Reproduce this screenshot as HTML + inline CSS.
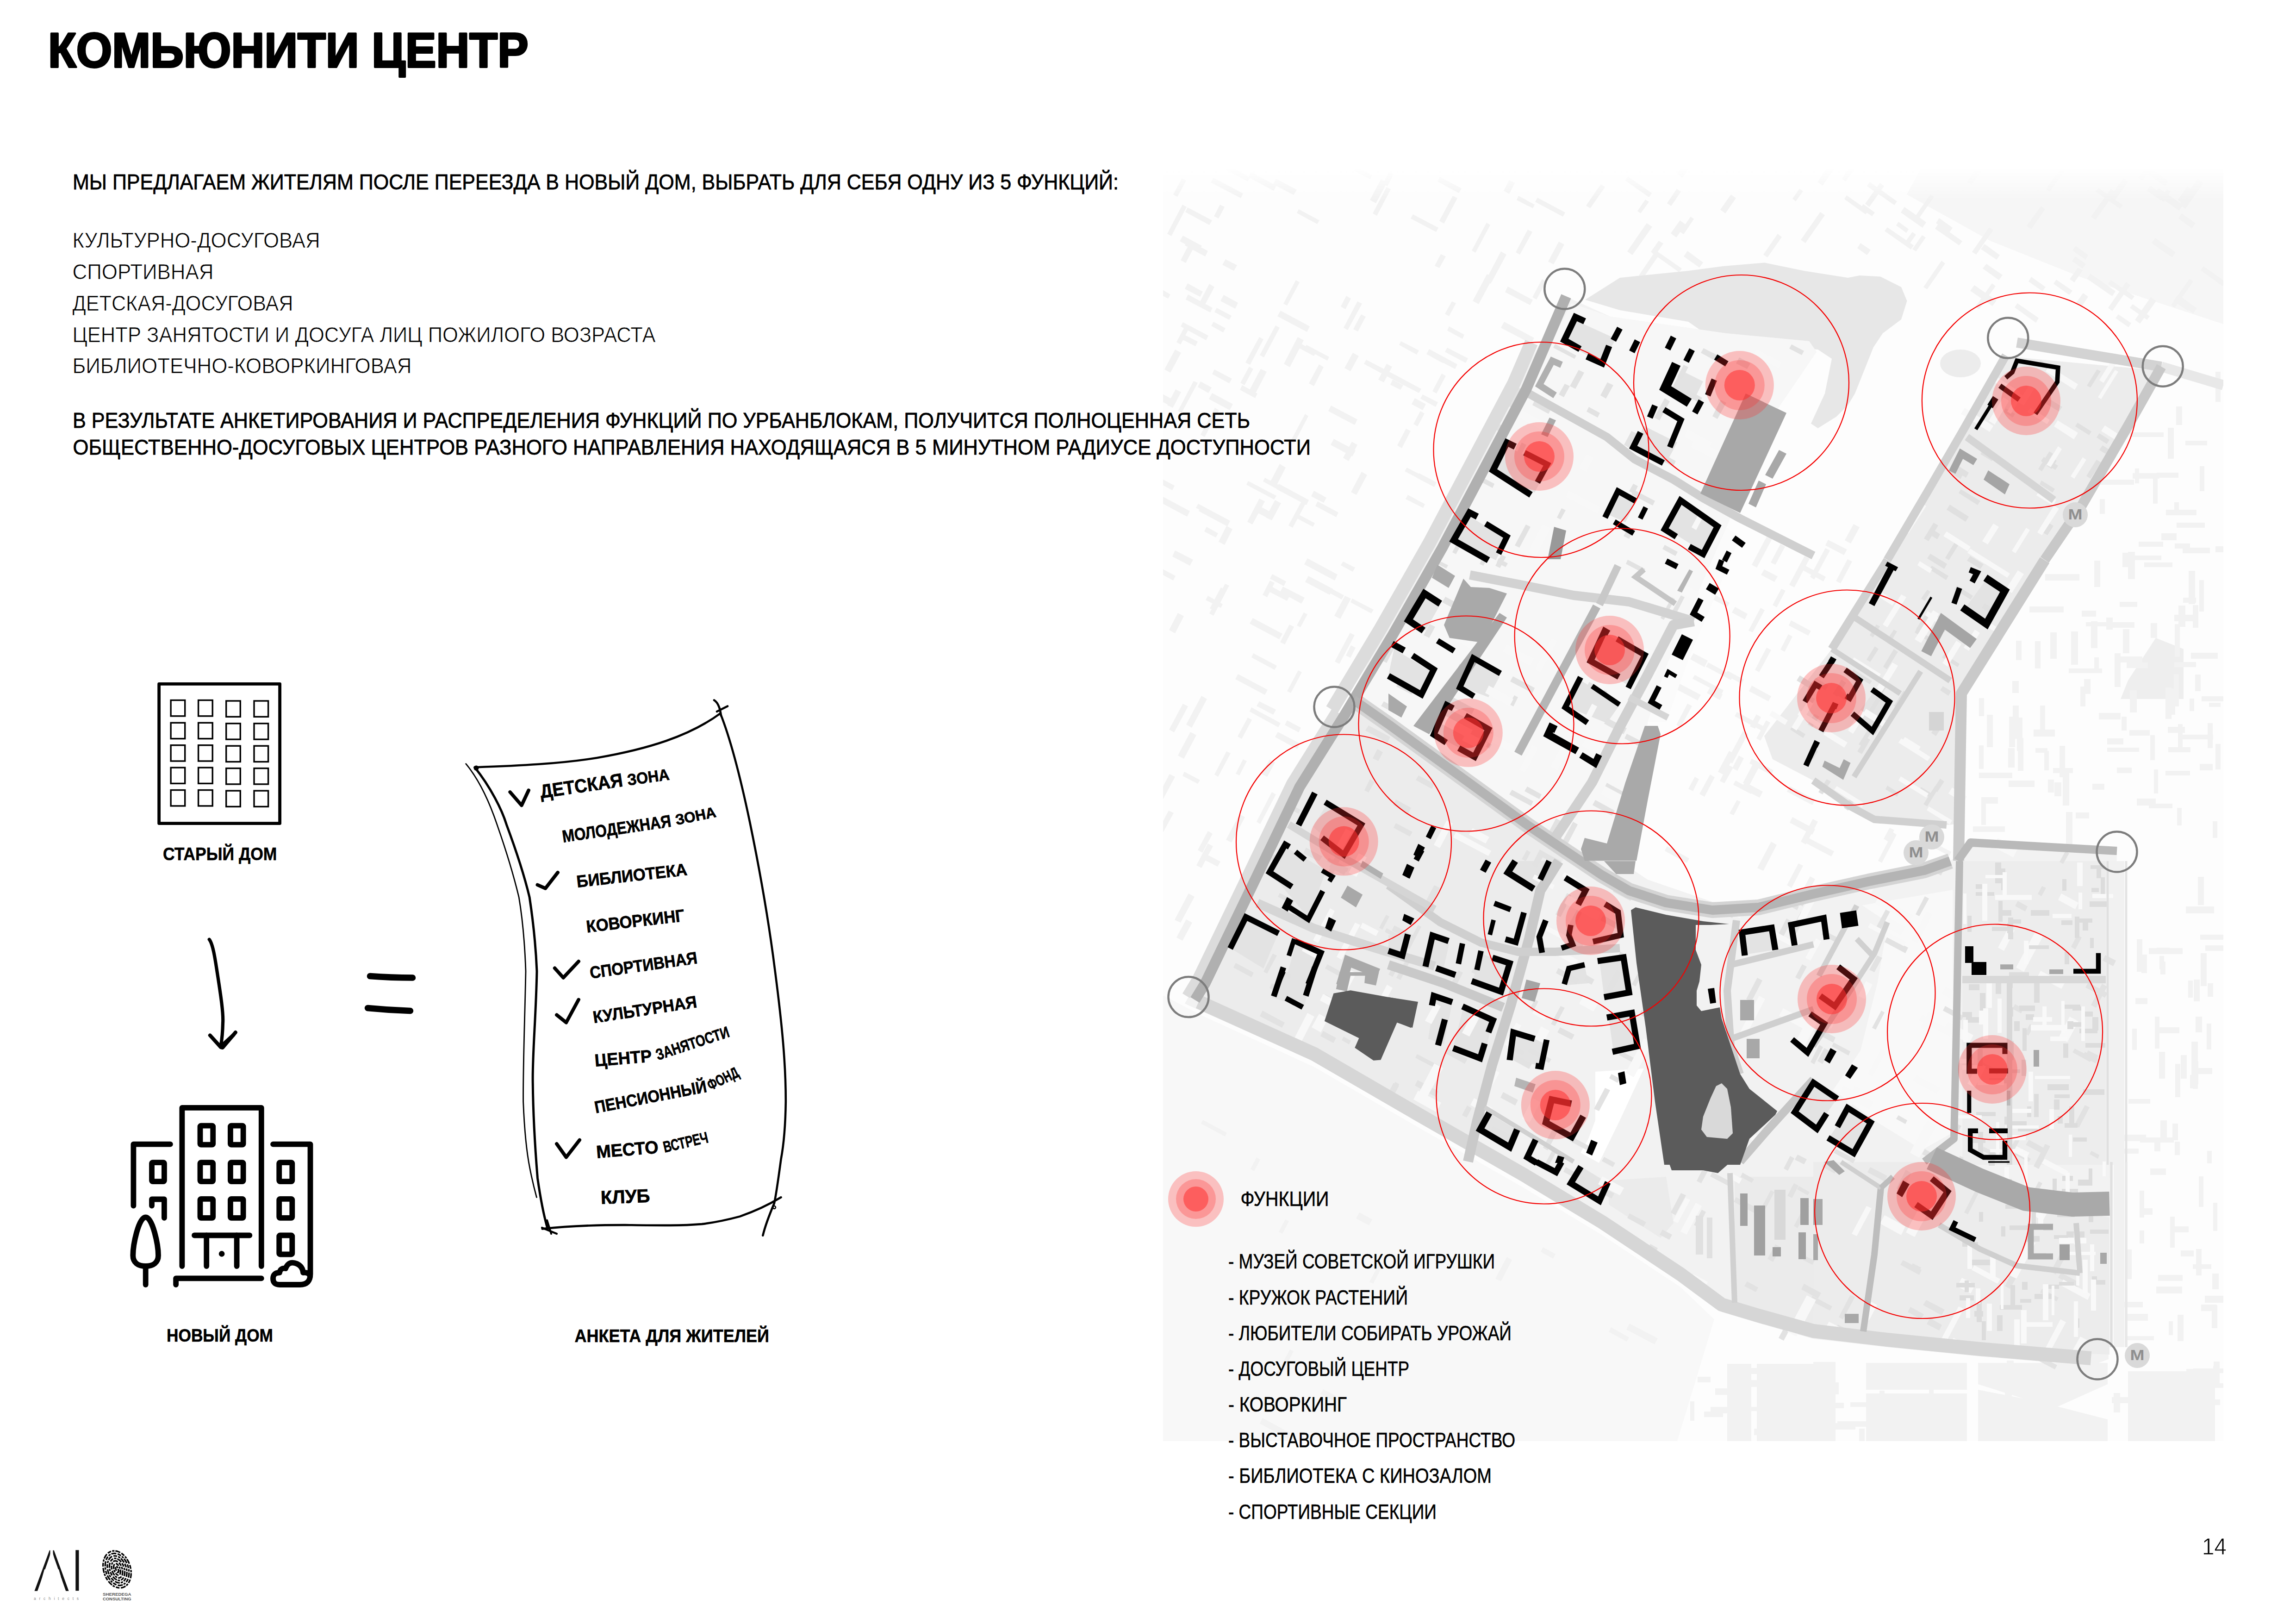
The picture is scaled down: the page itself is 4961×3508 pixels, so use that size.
<!DOCTYPE html>
<html lang="ru"><head><meta charset="utf-8"><title>Комьюнити центр</title>
<style>html,body{margin:0;padding:0;background:#fff}body{width:4961px;height:3508px}svg{display:block;font-family:'Liberation Sans', sans-serif}</style>
</head><body>
<svg width="4961" height="3508" viewBox="0 0 4961 3508">
<rect width="4961" height="3508" fill="#fff"/>
<g id="map">
<defs><linearGradient id="fadeT" x1="0" y1="0" x2="0" y2="1"><stop offset="0" stop-color="#fff" stop-opacity="1"/><stop offset="1" stop-color="#fff" stop-opacity="0"/></linearGradient><clipPath id="mapclip"><rect x="2513" y="362" width="2291" height="2751"/></clipPath></defs>
<rect x="2513" y="362" width="2291" height="2751" fill="#fdfdfd"/>
<path d="M2513 2150 L2600 2195 L2840 2305 L3066 2436 L3293 2566 L3462 2668 L3632 2781 L3704 2850 L3624 3113 L2513 3113Z" fill="#f8f8f8"/>
<g clip-path="url(#mapclip)">
<g id="m-ctx">
<path d="M4032.0 2944.0 L4250.0 2944.0 L4250.0 3002.0 L4032.0 3002.0Z" fill="#f2f2f2"/>
<path d="M4032.0 3010.0 L4250.0 3010.0 L4250.0 3116.0 L4032.0 3116.0Z" fill="#f2f2f2"/>
<path d="M4274.0 2944.0 L4554.0 2944.0 L4554.0 2990.0 L4438.0 3042.0 L4274.0 2990.0Z" fill="#f2f2f2"/>
<path d="M4274.0 3002.0 L4398.0 3026.0 L4554.0 3066.0 L4554.0 3116.0 L4274.0 3116.0Z" fill="#f2f2f2"/>
<path d="M4598.0 2962.0 L4786.0 2962.0 L4786.0 3116.0 L4598.0 3116.0Z" fill="#f2f2f2"/>
<path d="M3918.0 2942.0 L3966.0 2942.0 L3966.0 3116.0 L3918.0 3116.0Z" fill="#f2f2f2"/>
<path d="M3732.0 2946.0 L3784.0 2946.0 L3784.0 3114.0 L3732.0 3114.0Z" fill="#f2f2f2"/>
<path d="M3796.0 2946.0 L3918.4 2946.0 L3918.4 3114.0 L3796.0 3114.0Z" fill="#f2f2f2"/>
<path d="M4658.0 1378.0 L4718.0 1402.0 L4718.0 1510.0 L4582.0 1510.0 L4598.0 1470.0Z" fill="#eeeeee"/>
<path d="M4150.0 365.0 L4804.0 365.0 L4804.0 700.0 L4500.0 600.0 L4300.0 520.0 L4120.0 420.0Z" fill="#f6f6f6"/>
<path d="M2773 656L2800 605L2808 610L2781 660ZM2806 452L2851 476L2846 484L2802 460ZM2556 509L2597 531L2590 543L2549 521ZM2675 1456L2739 1490L2733 1501L2669 1467ZM3322 427L3382 459L3377 468L3317 436ZM2594 939L2625 881L2634 886L2603 944ZM3040 1010L3086 1034L3081 1042L3035 1018ZM2674 1591L2696 1550L2705 1555L2683 1596ZM2876 876L2933 906L2927 918L2870 888ZM2589 1088L2644 1118L2640 1126L2584 1097ZM2526 1576L2556 1520L2567 1526L2537 1582ZM2761 1581L2809 1606L2803 1618L2755 1592ZM2545 1632L2572 1581L2585 1588L2558 1639ZM2733 1032L2785 1059L2781 1068L2729 1040ZM2648 560L2673 573L2666 585L2641 572ZM2697 1039L2758 1071L2753 1079L2693 1047ZM2735 1118L2755 1080L2768 1087L2748 1124ZM2629 665L2661 682L2656 691L2624 674ZM3009 820L3032 832L3026 842L3004 831ZM2538 1987L2568 1930L2581 1937L2551 1993ZM2839 1060L2866 1075L2860 1086L2833 1072ZM2559 723L2588 738L2583 748L2554 733ZM2503 621L2529 636L2524 645L2497 631ZM2624 798L2662 818L2656 828L2619 808ZM2902 1213L2928 1226L2923 1235L2897 1221ZM2622 384L2686 418L2681 428L2616 394ZM2960 432L2984 387L2997 394L2973 439ZM3095 845L3115 807L3124 812L3104 850ZM2774 786L2804 728L2817 735L2787 793ZM3127 751L3172 774L3167 784L3122 760ZM2522 875L2540 841L2552 847L2534 881ZM2812 743L2844 760L2839 769L2807 752ZM2563 1565L2596 1503L2608 1510L2575 1572ZM2903 708L2933 651L2943 656L2912 713ZM3122 678L3137 651L3146 655L3131 683ZM3182 650L3213 592L3226 599L3195 657ZM2802 1351L2817 1323L2825 1327L2810 1355ZM2680 827L2699 792L2708 797L2689 832ZM2725 1095L2753 1110L2746 1123L2718 1108ZM2884 1429L2917 1367L2927 1372L2894 1434ZM2922 1293L2968 1317L2963 1325L2918 1301ZM2644 352L2701 383L2696 392L2639 361ZM2772 1267L2819 1291L2812 1304L2766 1279ZM2978 820L2996 786L3008 792L2990 826ZM2883 1330L2906 1287L2919 1293L2896 1337ZM2707 1335L2771 1369L2764 1381L2700 1347ZM2607 1138L2632 1152L2627 1161L2602 1148ZM3258 619L3312 648L3306 659L3252 631ZM2825 1206L2890 1241L2884 1254L2818 1219ZM2867 1266L2904 1286L2899 1295L2862 1275ZM3111 382L3158 407L3152 417L3106 392ZM2781 1493L2805 1448L2813 1452L2789 1497ZM2594 824L2618 837L2611 849L2588 836ZM2596 1092L2658 1125L2652 1137L2590 1104ZM2566 448L2619 476L2613 486L2561 458ZM3180 541L3212 481L3220 486L3188 546ZM2882 948L2929 973L2922 986L2875 961ZM2610 1287L2642 1305L2638 1313L2605 1296ZM2542 739L2561 703L2570 708L2551 744ZM2749 1240L2779 1256L2774 1266L2744 1250ZM2703 372L2758 401L2752 412L2698 383ZM2588 1836L2610 1795L2620 1801L2598 1842ZM2827 1244L2880 1272L2873 1285L2820 1257ZM3042 1069L3079 1089L3075 1097L3037 1078ZM2559 1667L2593 1685L2588 1693L2555 1676ZM3074 852L3107 869L3102 879L3069 861ZM2633 1170L2650 1136L2663 1143L2646 1177ZM2952 777L3017 811L3012 821L2947 786ZM2495 1026L2538 1049L2533 1059L2490 1036ZM2931 361L2965 379L2960 387L2926 369ZM2535 420L2554 385L2563 390L2544 425ZM2624 1673L2650 1623L2659 1627L2632 1678ZM2614 1314L2638 1269L2650 1276L2627 1320ZM3098 763L3121 775L3117 784L3093 771ZM2585 1869L2610 1822L2621 1828L2596 1875ZM2496 1806L2525 1751L2536 1756L2506 1811ZM3053 463L3108 492L3103 501L3048 472ZM2726 1672L2743 1641L2755 1647L2738 1678ZM2919 1063L2942 1019L2954 1026L2931 1069ZM2566 612L2599 630L2593 641L2560 624ZM2988 397L3001 372L3011 377L2998 402ZM2744 1265L2786 1288L2781 1298L2738 1276ZM3250 695L3315 730L3308 742L3243 708ZM2722 767L2756 703L2765 708L2731 772ZM2613 1325L2647 1261L2656 1265L2622 1330ZM3088 754L3149 787L3144 797L3082 765ZM2498 1222L2540 1244L2535 1254L2493 1231ZM2788 954L2820 894L2827 899L2796 958ZM3210 606L3243 543L3255 550L3221 613ZM2744 1042L2765 1002L2778 1010L2758 1049ZM2807 1112L2841 1130L2837 1138L2803 1120ZM2728 1285L2744 1254L2754 1259L2738 1290ZM3110 477L3139 423L3149 428L3120 483ZM3057 860L3081 873L3074 886L3050 873ZM2902 989L2921 954L2933 961L2914 996ZM2721 1515L2757 1533L2751 1544L2715 1525ZM2644 637L2675 654L2669 667L2637 650ZM2622 695L2648 709L2643 718L2617 704ZM2699 844L2724 797L2737 803L2712 851ZM2847 1083L2892 1107L2887 1117L2842 1093ZM2545 888L2579 823L2588 827L2553 892ZM2684 832L2717 850L2712 860L2679 842ZM3249 412L3261 389L3273 395L3261 419ZM2908 1416L2919 1394L2929 1399L2918 1421ZM2589 659L2613 613L2624 620L2600 665ZM2966 461L2996 404L3005 409L2975 466ZM3054 916L3069 888L3078 893L3063 921ZM3100 574L3113 549L3124 554L3110 579ZM2823 745L2872 771L2868 779L2819 753ZM2905 795L2923 762L2936 769L2918 802ZM2757 386L2802 410L2795 421L2751 398ZM2704 1528L2767 1562L2762 1571L2700 1537ZM2784 1135L2812 1083L2821 1088L2793 1140ZM2691 783L2721 728L2730 733L2701 788ZM2924 711L2941 679L2951 684L2934 716ZM3311 642L3332 603L3341 608L3320 647ZM2623 467L2636 442L2646 447L2633 472ZM2767 671L2830 705L2824 717L2760 683ZM3066 1022L3104 1042L3099 1052L3061 1032ZM2500 845L2538 865L2531 878L2493 858ZM2539 1189L2578 1209L2571 1222L2533 1202ZM2513 1073L2571 1104L2565 1116L2507 1085ZM2522 505L2555 442L2564 447L2531 510ZM3017 811L3071 840L3066 849L3012 821ZM2494 1735L2527 1672L2539 1678L2505 1741ZM2516 798L2539 755L2552 762L2529 805ZM2828 828L2850 787L2860 793L2839 834ZM2649 1814L2678 1759L2690 1765L2661 1820ZM3019 962L3038 926L3048 931L3029 968ZM2556 696L2611 725L2606 735L2551 705ZM2526 1361L2545 1324L2558 1331L2539 1368ZM2566 519L2610 542L2604 554L2560 530ZM2695 1127L2721 1077L2733 1083L2706 1133ZM2602 1843L2637 1861L2631 1872L2596 1854ZM3131 705L3164 723L3160 732L3127 714ZM2763 1045L2828 1080L2823 1091L2757 1056ZM3345 565L3368 522L3380 528L3357 571ZM3281 423L3316 442L3312 450L3277 432ZM2715 1775L2748 1711L2757 1716L2723 1780ZM3027 737L3066 757L3061 766L3023 745ZM2708 1411L2759 1438L2754 1447L2704 1420ZM2781 1556L2811 1572L2806 1582L2776 1566ZM2551 562L2572 522L2583 528L2562 568ZM2567 636L2620 665L2615 675L2562 647ZM2766 1387L2786 1349L2796 1354L2776 1392ZM2670 1671L2686 1640L2694 1644L2678 1675ZM2897 662L2909 639L2919 645L2907 668ZM3275 545L3301 496L3311 501L3284 550ZM2619 849L2664 873L2657 886L2612 862ZM2542 2025L2563 1986L2576 1993L2555 2032Z" fill="#f2f2f2"/>
<path d="M4534 406L4587 443L4581 451L4528 414ZM4577 679L4605 698L4599 707L4571 687ZM4114 526L4132 501L4140 507L4122 532ZM4642 360L4685 391L4678 402L4634 372ZM4556 430L4588 385L4598 393L4566 438ZM3810 550L3841 505L3850 512L3819 556ZM4020 525L4042 540L4034 551L4013 536ZM4485 531L4512 551L4506 561L4478 541ZM3567 544L3584 520L3594 526L3577 551ZM4484 554L4507 570L4500 580L4477 564ZM4709 442L4748 387L4761 395L4722 451ZM4518 468L4561 408L4570 415L4528 475ZM4664 406L4717 443L4708 455L4656 418ZM3575 539L3634 580L3628 588L3570 547ZM4102 479L4124 495L4119 503L4097 487ZM4691 659L4731 602L4739 608L4699 665ZM3541 595L3573 548L3582 555L3550 601ZM4156 620L4195 563L4203 569L4164 625ZM4261 544L4298 491L4307 497L4270 550ZM4188 484L4240 521L4233 530L4181 494ZM4421 408L4459 354L4467 360L4429 414ZM4761 575L4809 609L4802 618L4755 584ZM3427 444L3459 398L3468 404L3436 450ZM4646 401L4676 422L4669 433L4639 412ZM3534 517L3555 488L3565 495L3544 524ZM4040 393L4099 435L4093 443L4034 402ZM4608 657L4645 683L4639 691L4602 665ZM4292 570L4327 594L4319 605L4284 580ZM4705 638L4735 660L4727 671L4696 650ZM4132 538L4153 508L4161 513L4140 543ZM4706 432L4726 403L4736 410L4716 439ZM3630 501L3653 468L3660 473L3638 506ZM4486 654L4501 633L4512 641L4498 662ZM4026 441L4051 459L4045 467L4020 450ZM4379 488L4410 445L4419 452L4389 495ZM4115 447L4162 480L4154 492L4107 459ZM4620 384L4642 352L4651 358L4629 390ZM4714 642L4747 666L4739 677L4705 654ZM4266 616L4314 649L4305 661L4257 628ZM4555 665L4594 609L4603 616L4564 672ZM4190 471L4219 492L4212 502L4183 482ZM4667 430L4682 409L4690 414L4675 436ZM3873 429L3888 408L3896 413L3880 435ZM4268 663L4304 612L4312 618L4276 668ZM3538 456L3555 431L3563 436L3545 461ZM4517 591L4571 629L4564 640L4509 602ZM3517 381L3569 417L3563 426L3512 390ZM3980 386L4001 355L4010 361L3988 392ZM3891 518L3933 458L3943 465L3901 525ZM4250 393L4276 355L4286 362L4260 399ZM4132 476L4171 420L4179 425L4140 481ZM3624 376L3644 347L3655 355L3635 384ZM3646 542L3680 567L3672 578L3638 554ZM4714 461L4744 482L4736 493L4707 472ZM4359 655L4405 687L4399 697L4353 664ZM4078 491L4135 530L4129 539L4072 499ZM4443 604L4478 628L4471 637L4437 613ZM4561 605L4612 640L4606 648L4555 613ZM4472 603L4490 578L4500 584L4482 610ZM3717 453L3740 420L3751 428L3728 461ZM3602 439L3623 408L3632 414L3611 445ZM3610 504L3630 476L3642 485L3622 513ZM3516 543L3558 482L3570 490L3527 551ZM3990 422L4037 455L4031 463L3985 430ZM3927 393L3952 356L3964 364L3938 401ZM4030 440L4062 395L4071 402L4039 447ZM4657 514L4701 545L4693 556L4649 525ZM4613 691L4647 642L4659 650L4624 699ZM4288 527L4321 551L4314 561L4280 538ZM4389 598L4420 620L4413 629L4383 608Z" fill="#f2f2f2"/>
<path d="M4613 1192L4613 1251L4598 1251L4598 1192ZM4601 1577L4645 1577L4645 1589L4601 1589ZM4370 1550L4370 1622L4358 1622L4358 1550ZM4551 1344L4612 1344L4612 1356L4551 1356ZM4722 1308L4722 1354L4707 1354L4707 1308ZM4607 1200L4670 1200L4670 1210L4607 1210ZM4506 1483L4506 1526L4495 1526L4495 1483ZM4643 1736L4694 1736L4694 1746L4643 1746ZM4354 1548L4354 1614L4341 1614L4341 1548ZM4538 1036L4611 1036L4611 1047L4538 1047ZM4685 1614L4733 1614L4733 1625L4685 1625ZM4353 1616L4353 1658L4339 1658L4339 1616ZM4287 1508L4287 1547L4276 1547L4276 1508ZM4538 1211L4538 1268L4525 1268L4525 1211ZM4753 1650L4781 1650L4781 1664L4753 1664ZM4697 924L4697 991L4684 991L4684 924ZM4291 1724L4291 1782L4281 1782L4281 1724ZM4670 1152L4703 1152L4703 1167L4670 1167ZM4340 1686L4396 1686L4396 1700L4340 1700ZM4715 1587L4782 1587L4782 1597L4715 1597ZM4535 1540L4582 1540L4582 1554L4535 1554ZM4507 1344L4575 1344L4575 1353L4507 1353ZM4532 1342L4532 1400L4518 1400L4518 1342ZM4485 1755L4514 1755L4514 1768L4485 1768ZM4617 1725L4658 1725L4658 1740L4617 1740ZM4521 1693L4547 1693L4547 1706L4521 1706ZM4436 1659L4479 1659L4479 1670L4436 1670ZM4660 1021L4707 1021L4707 1032L4660 1032ZM4680 1101L4746 1101L4746 1113L4680 1113ZM4385 1310L4459 1310L4459 1323L4385 1323ZM4444 1366L4444 1423L4430 1423L4430 1366ZM4663 1662L4663 1714L4654 1714L4654 1662ZM4734 1410L4792 1410L4792 1423L4734 1423ZM4572 1418L4629 1418L4629 1431L4572 1431ZM4608 1022L4666 1022L4666 1034L4608 1034ZM4306 1544L4306 1614L4293 1614L4293 1544ZM4716 1564L4716 1617L4706 1617L4706 1564ZM4470 1444L4542 1444L4542 1454L4470 1454ZM4710 1348L4710 1419L4699 1419L4699 1348ZM4490 1364L4490 1436L4475 1436L4475 1364ZM4622 1012L4622 1044L4613 1044L4613 1012ZM4602 934L4675 934L4675 944L4602 944ZM4662 1027L4662 1088L4652 1088L4652 1027ZM4692 1485L4692 1553L4679 1553L4679 1485ZM4617 1491L4617 1539L4602 1539L4602 1491ZM4773 1518L4798 1518L4798 1527L4773 1527ZM4715 878L4715 918L4702 918L4702 878ZM4717 1291L4745 1291L4745 1302L4717 1302ZM4517 1467L4517 1499L4503 1499L4503 1467ZM4595 1431L4641 1431L4641 1443L4595 1443ZM4781 1562L4781 1616L4770 1616L4770 1562ZM4757 1504L4824 1504L4824 1515L4757 1515ZM4798 1607L4798 1662L4787 1662L4787 1607ZM4716 1183L4775 1183L4775 1195L4716 1195ZM4708 1085L4708 1110L4698 1110L4698 1085ZM4553 1615L4622 1615L4622 1624L4553 1624ZM4679 1665L4732 1665L4732 1675L4679 1675ZM4708 1456L4708 1526L4697 1526L4697 1456ZM4553 1595L4588 1595L4588 1608L4553 1608ZM4409 1385L4409 1444L4397 1444L4397 1385ZM4419 1524L4419 1588L4408 1588L4408 1524ZM4684 1570L4721 1570L4721 1583L4684 1583ZM4750 1307L4750 1356L4738 1356L4738 1307ZM4621 1170L4674 1170L4674 1181L4621 1181ZM4787 1180L4818 1180L4818 1193L4787 1193ZM4368 1384L4368 1426L4356 1426L4356 1384ZM4263 1785L4332 1785L4332 1797L4263 1797ZM4394 1576L4440 1576L4440 1591L4394 1591ZM4714 1745L4714 1783L4704 1783L4704 1745ZM4743 1233L4743 1305L4729 1305L4729 1233ZM4601 1194L4601 1225L4586 1225L4586 1194ZM4582 1411L4582 1484L4569 1484L4569 1411ZM4791 1774L4791 1810L4781 1810L4781 1774ZM4471 1670L4471 1740L4457 1740L4457 1670ZM4700 1487L4700 1544L4685 1544L4685 1487ZM4362 1524L4362 1596L4349 1596L4349 1524ZM4595 1548L4595 1578L4584 1578L4584 1548ZM4362 1471L4362 1497L4348 1497L4348 1471ZM4281 1722L4317 1722L4317 1736L4281 1736ZM4722 952L4769 952L4769 962L4722 962ZM4698 1430L4745 1430L4745 1441L4698 1441ZM4535 1420L4535 1452L4525 1452L4525 1420ZM4661 1346L4661 1378L4647 1378L4647 1346ZM4427 1622L4427 1664L4417 1664L4417 1622ZM4454 1690L4454 1720L4439 1720L4439 1690ZM4755 1457L4755 1493L4743 1493L4743 1457ZM4478 1754L4478 1829L4464 1829L4464 1754ZM4438 1684L4438 1712L4425 1712L4425 1684ZM4798 803L4798 868L4787 868L4787 803ZM4286 1610L4286 1661L4276 1661L4276 1610ZM4763 1007L4763 1061L4753 1061L4753 1007ZM4688 1500L4688 1535L4679 1535L4679 1500ZM4580 1300L4618 1300L4618 1311L4580 1311ZM4656 1588L4656 1642L4646 1642L4646 1588ZM4633 1215L4694 1215L4694 1225L4633 1225ZM4462 1611L4462 1679L4450 1679L4450 1611ZM4762 1253L4762 1321L4752 1321L4752 1253ZM4699 1174L4732 1174L4732 1185L4699 1185ZM4498 1319L4529 1319L4529 1332L4498 1332ZM4703 1129L4764 1129L4764 1140L4703 1140ZM4276 1669L4348 1669L4348 1681L4276 1681ZM4565 1334L4565 1360L4551 1360L4551 1334ZM4398 1616L4424 1616L4424 1626L4398 1626ZM4601 1359L4601 1411L4587 1411L4587 1359ZM4741 1509L4741 1536L4731 1536L4731 1509ZM4548 1078L4548 1110L4537 1110L4537 1078ZM4574 1658L4606 1658L4606 1670L4574 1670ZM4372 1594L4372 1665L4360 1665L4360 1594ZM4698 1328L4742 1328L4742 1342L4698 1342ZM4419 1240L4493 1240L4493 1254L4419 1254Z" fill="#f2f2f2"/>
<path d="M4070 1812L4083 1788L4093 1793L4080 1818ZM3781 1569L3795 1543L3805 1549L3792 1574ZM4058 1859L4090 1798L4098 1803L4066 1864ZM3716 1687L3734 1652L3745 1658L3726 1692ZM3743 1659L3757 1632L3768 1638L3754 1665ZM3870 1340L3913 1363L3907 1373L3865 1351ZM3733 1449L3768 1468L3763 1477L3728 1458ZM3891 1818L3917 1769L3928 1775L3902 1824ZM3672 1715L3695 1673L3705 1679L3683 1721ZM3847 1403L3864 1370L3873 1375L3856 1408ZM3737 1757L3753 1728L3761 1732L3746 1761ZM3826 1215L3847 1175L3857 1181L3836 1220ZM3766 1691L3792 1642L3805 1649L3779 1698ZM3867 1698L3922 1727L3916 1739L3861 1710ZM3861 1912L3886 1865L3896 1870L3871 1918ZM3785 1481L3827 1504L3821 1515L3779 1493ZM3795 1595L3816 1556L3825 1561L3804 1600ZM3830 1307L3849 1272L3858 1276L3839 1312ZM3911 1246L3944 1184L3954 1189L3920 1252ZM3662 1458L3724 1491L3720 1499L3657 1466ZM3887 1938L3911 1893L3922 1899L3898 1944ZM3792 1447L3817 1399L3827 1404L3801 1452ZM3898 1805L3963 1839L3957 1850L3892 1816ZM3753 1538L3811 1569L3806 1578L3748 1547ZM3866 1263L3899 1201L3910 1207L3877 1269ZM4176 1819L4216 1840L4212 1849L4171 1827ZM3950 1166L3991 1187L3984 1199L3944 1178ZM3986 1167L4005 1132L4018 1139L3999 1174ZM3712 1667L3736 1622L3749 1629L3725 1674ZM3812 1230L3841 1245L3834 1257L3805 1242ZM3873 1765L3922 1791L3916 1803L3867 1777ZM3750 1686L3788 1707L3783 1715L3745 1695ZM3602 1828L3650 1854L3645 1864L3597 1838ZM3785 1220L3818 1158L3829 1164L3796 1226ZM4140 1823L4159 1787L4172 1794L4153 1829ZM3732 1643L3766 1579L3777 1585L3743 1649ZM3691 1431L3745 1460L3740 1469L3686 1440ZM3659 1411L3690 1427L3683 1441L3652 1424ZM3899 1221L3945 1246L3940 1256L3894 1231ZM3702 1283L3737 1302L3732 1311L3697 1293ZM3648 1704L3662 1678L3671 1683L3658 1709ZM3616 1470L3675 1501L3668 1513L3609 1482ZM3770 1689L3809 1710L3802 1723L3763 1703ZM3695 1485L3722 1500L3716 1512L3688 1497ZM3778 1362L3804 1313L3813 1318L3787 1366ZM3622 1566L3646 1520L3656 1525L3631 1571ZM3785 1639L3832 1664L3827 1674L3780 1649ZM3967 1255L3992 1208L4002 1213L3977 1260ZM3749 1311L3776 1326L3770 1338L3742 1323ZM3797 1875L3827 1818L3839 1825L3810 1881Z" fill="#f2f2f2"/>
<path d="M4614 2156L4640 2156L4640 2169L4614 2169ZM4678 2272L4678 2330L4665 2330L4665 2272ZM4778 2211L4778 2267L4768 2267L4768 2211ZM4791 2598L4791 2659L4782 2659L4782 2598ZM4639 2062L4639 2102L4627 2102L4627 2062ZM4646 2524L4680 2524L4680 2538L4646 2538ZM4753 2116L4753 2163L4740 2163L4740 2116ZM4606 2699L4606 2763L4595 2763L4595 2699ZM4779 2486L4779 2513L4769 2513L4769 2486ZM4768 2059L4768 2130L4755 2130L4755 2059ZM4749 2250L4749 2313L4735 2313L4735 2250ZM4595 2838L4641 2838L4641 2853L4595 2853ZM4757 2698L4757 2755L4745 2755L4745 2698ZM4750 2292L4750 2342L4735 2342L4735 2292ZM4762 1894L4762 1955L4749 1955L4749 1894ZM4718 2840L4718 2897L4705 2897L4705 2840ZM4617 2222L4617 2268L4607 2268L4607 2222ZM4633 2572L4633 2630L4623 2630L4623 2572ZM4711 2298L4711 2370L4700 2370L4700 2298ZM4754 2019L4807 2019L4807 2030L4754 2030ZM4695 2649L4729 2649L4729 2662L4695 2662ZM4699 2628L4699 2695L4689 2695L4689 2628ZM4679 2077L4679 2105L4668 2105L4668 2077ZM4749 2322L4749 2352L4738 2352L4738 2322ZM4660 2047L4688 2047L4688 2056L4660 2056ZM4723 1958L4784 1958L4784 1973L4723 1973ZM4599 2374L4646 2374L4646 2384L4599 2384ZM4573 2812L4630 2812L4630 2824L4573 2824ZM4738 2118L4738 2155L4728 2155L4728 2118ZM4738 2731L4778 2731L4778 2741L4738 2741ZM4756 2818L4789 2818L4789 2832L4756 2832ZM4758 2196L4758 2230L4744 2230L4744 2196ZM4682 2420L4682 2464L4668 2464L4668 2420ZM4580 2451L4637 2451L4637 2465L4580 2465ZM4791 2819L4791 2869L4779 2869L4779 2819ZM4668 2458L4668 2487L4655 2487L4655 2458ZM4695 2854L4695 2884L4686 2884L4686 2854ZM4626 2610L4651 2610L4651 2624L4626 2624ZM4741 2307L4780 2307L4780 2320L4741 2320ZM4662 2219L4709 2219L4709 2232L4662 2232ZM4765 2042L4804 2042L4804 2054L4765 2054ZM4676 2065L4676 2094L4666 2094L4666 2065ZM4764 2799L4832 2799L4832 2814L4764 2814ZM4712 2701L4740 2701L4740 2714L4712 2714ZM4624 2457L4697 2457L4697 2468L4624 2468ZM4666 2196L4666 2265L4656 2265L4656 2196ZM4745 2322L4745 2351L4732 2351L4732 2322ZM4725 2279L4725 2330L4712 2330L4712 2279ZM4629 2029L4629 2099L4617 2099L4617 2029ZM4782 2124L4782 2153L4770 2153L4770 2124ZM4706 2427L4706 2463L4694 2463L4694 2427ZM4710 2466L4710 2495L4699 2495L4699 2466ZM4663 2754L4716 2754L4716 2767L4663 2767ZM4593 2886L4654 2886L4654 2895L4593 2895ZM4643 2048L4716 2048L4716 2061L4643 2061ZM4633 2658L4633 2686L4623 2686L4623 2658ZM4585 2481L4621 2481L4621 2492L4585 2492ZM4659 2779L4715 2779L4715 2794L4659 2794ZM4794 2751L4794 2785L4780 2785L4780 2751ZM4761 2541L4761 2607L4751 2607L4751 2541Z" fill="#f2f2f2"/>
<path d="M4470 3099L4531 3099L4531 3109L4470 3109ZM3732 3039L3798 3039L3798 3048L3732 3048ZM4412 2993L4447 2993L4447 3005L4412 3005ZM4308 2972L4334 2972L4334 2982L4308 2982ZM3870 3024L3870 3064L3857 3064L3857 3024ZM3790 3086L3842 3086L3842 3100L3790 3100ZM4724 2957L4766 2957L4766 2967L4724 2967ZM4644 3077L4671 3077L4671 3087L4644 3087ZM4410 3015L4459 3015L4459 3025L4410 3025ZM4109 3065L4109 3120L4099 3120L4099 3065ZM3904 3069L3904 3123L3895 3123L3895 3069ZM4072 3004L4072 3058L4061 3058L4061 3004ZM3661 3027L3661 3069L3652 3069L3652 3027ZM4795 2951L4795 2983L4782 2983L4782 2951ZM3946 3030L3984 3030L3984 3042L3946 3042ZM4741 3105L4768 3105L4768 3117L4741 3117ZM4663 3049L4663 3106L4650 3106L4650 3049ZM3941 3074L4009 3074L4009 3088L3941 3088ZM3970 3070L4032 3070L4032 3082L3970 3082ZM4059 3021L4059 3066L4050 3066L4050 3021ZM4029 3086L4029 3135L4017 3135L4017 3086ZM3905 3009L3937 3009L3937 3018L3905 3018ZM4178 3001L4178 3054L4168 3054L4168 3001ZM3706 2999L3747 2999L3747 3013L3706 3013ZM4738 2976L4738 3047L4726 3047L4726 2976ZM3819 3043L3893 3043L3893 3054L3819 3054ZM4130 3086L4158 3086L4158 3098L4130 3098ZM3973 2986L3973 3012L3963 3012L3963 2986ZM4440 2988L4485 2988L4485 2998L4440 2998ZM4630 3052L4665 3052L4665 3065L4630 3065ZM4351 2939L4351 3005L4336 3005L4336 2939ZM3782 2981L3834 2981L3834 2996L3782 2996ZM4694 2986L4736 2986L4736 2999L4694 2999ZM4122 3042L4122 3084L4113 3084L4113 3042ZM3682 3049L3723 3049L3723 3061L3682 3061ZM3934 3023L3959 3023L3959 3038L3934 3038ZM4796 2941L4796 2996L4783 2996L4783 2941ZM3765 2968L3765 3000L3751 3000L3751 2968ZM4563 3018L4615 3018L4615 3031L4563 3031ZM4415 3031L4415 3072L4402 3072L4402 3031ZM4439 3071L4503 3071L4503 3081L4439 3081ZM4758 3023L4797 3023L4797 3035L4758 3035ZM3778 2955L3827 2955L3827 2968L3778 2968ZM4075 3092L4075 3129L4062 3129L4062 3092ZM3668 2974L3696 2974L3696 2986L3668 2986ZM3865 3081L3865 3124L3855 3124L3855 3081ZM4485 3095L4518 3095L4518 3105L4485 3105ZM3936 3084L3936 3134L3924 3134L3924 3084ZM4581 3009L4581 3051L4567 3051L4567 3009ZM4468 2964L4525 2964L4525 2976L4468 2976ZM3696 3039L3742 3039L3742 3053L3696 3053ZM4379 2975L4379 3013L4368 3013L4368 2975ZM3923 2959L3923 3022L3911 3022L3911 2959ZM4771 2988L4824 2988L4824 2998L4771 2998ZM4660 2969L4660 3032L4646 3032L4646 2969ZM3998 3029L4067 3029L4067 3039L3998 3039ZM4347 3002L4347 3056L4332 3056L4332 3002ZM4677 2983L4677 3047L4663 3047L4663 2983ZM4652 3091L4652 3131L4642 3131L4642 3091ZM4739 2956L4810 2956L4810 2966L4739 2966Z" fill="#f2f2f2"/>
<path d="M2599 2419L2651 2447L2647 2455L2595 2427ZM3521 2859L3582 2891L3575 2904L3514 2872ZM2759 2967L2787 2915L2795 2919L2768 2972ZM2763 2661L2777 2634L2785 2638L2771 2665ZM2859 3001L2886 3015L2881 3026L2853 3011ZM3334 2694L3361 2709L3356 2719L3329 2704ZM2728 3063L2789 3096L2783 3108L2722 3075ZM2702 2525L2715 2500L2723 2505L2710 2530ZM2959 2769L2979 2731L2987 2735L2967 2773ZM3231 2762L3256 2715L3267 2722L3243 2768ZM3481 2867L3520 2889L3515 2898L3476 2877ZM2937 2619L2965 2634L2958 2647L2930 2632Z" fill="#f2f2f2"/>
</g>
<g id="m-pond">
<path d="M3425.0 647.5 L3500.0 600.0 L3648.0 585.0 L3723.0 575.0 L3813.0 567.5 L3898.0 585.0 L3993.0 600.0 L4018.0 595.0 L4063.0 597.5 L4108.0 620.0 L4120.5 650.0 L4108.0 690.0 L4068.0 720.0 L4048.0 750.0 L4028.0 800.0 L4008.0 850.0 L3993.0 875.0 L3968.0 900.0 L3928.0 925.0 L3913.0 915.0 L3943.0 850.0 L3958.0 775.0 L3928.0 755.0 L3798.0 745.0 L3698.0 730.0 L3648.0 695.0 L3500.0 670.0Z" fill="#e7e7e7"/>
<ellipse cx="4236" cy="785" rx="44" ry="30" fill="#ececec"/>
</g>
<g id="m-block">
<path d="M4338.0 770.0 L4660.0 800.0 L4598.0 920.0 L4498.0 1092.0 L4418.0 1210.0 L4318.0 1370.0 L4258.0 1466.0 L4238.0 1498.0 L4236.0 1610.0 L4232.0 1780.0 L4206.0 1782.0 L4050.0 1770.0 L3998.0 1742.0 L3918.0 1686.0 L3830.0 1640.0 L3812.0 1590.0 L3958.0 1402.0 L4078.0 1210.0 L4166.0 1060.0 L4238.0 936.0Z" fill="#ececec"/>
<path d="M3382.0 640.0 L3480.0 684.0 L3730.0 720.0 L3909.0 737.0 L3925.0 760.0 L3837.0 889.0 L3730.0 1139.0 L3600.0 1440.0 L3560.0 1560.0 L3540.0 1700.0 L3500.0 1860.0 L3560.0 1900.0 L3700.0 1948.0 L3850.0 1948.0 L3918.0 1932.0 L4038.0 1904.0 L4158.0 1880.0 L4214.0 1860.0 L4258.0 1822.0 L4574.0 1840.0 L4560.0 2400.0 L4556.0 2936.0 L4518.0 2950.0 L4278.0 2930.0 L4078.0 2910.0 L3918.0 2892.0 L3800.0 2858.0 L3720.0 2834.0 L3632.0 2770.0 L3462.0 2656.0 L3293.0 2554.0 L3066.0 2424.0 L2840.0 2293.0 L2560.0 2168.0Z" fill="#f2f2f2"/>
<path d="M3395.0 655.0 L3480.0 684.0 L3730.0 720.0 L3909.0 737.0 L3925.0 760.0 L3837.0 889.0 L3730.0 1139.0 L3600.0 1440.0 L3560.0 1560.0 L3540.0 1700.0 L3500.0 1860.0 L3420.0 1850.0 L3300.0 1770.0 L3100.0 1625.0 L2940.0 1510.0 L3020.0 1370.0 L3126.0 1184.0 L3234.0 980.0 L3308.0 840.0 L3346.0 752.0Z" fill="#f7f7f7"/>
<path d="M2930.0 1530.0 L3100.0 1650.0 L3300.0 1795.0 L3383.0 1850.0 L3330.0 1924.0 L3304.0 2028.0 L3264.0 2172.0 L3224.0 2300.0 L3192.0 2420.0 L3180.0 2470.0 L3066.0 2408.0 L2840.0 2277.0 L2590.0 2164.0 L2712.0 1900.0 L2808.0 1700.0 L2905.0 1545.0Z" fill="#ececec"/>
<path d="M3918.0 2510.0 L4158.0 2510.0 L4318.0 2582.0 L4558.0 2630.0 L4558.0 2926.0 L4278.0 2914.0 L3918.0 2876.0Z" fill="#ececec"/>
<path d="M3404.0 692.0 L3492.0 732.0 L3460.0 784.0 L3380.0 740.0Z" fill="#e3e3e3"/>
<path d="M3632.0 800.0 L3680.0 824.0 L3660.0 864.0 L3612.0 840.0Z" fill="#e3e3e3"/>
<path d="M3552.0 920.0 L3624.0 956.0 L3600.0 1000.0 L3532.0 964.0Z" fill="#e3e3e3"/>
<path d="M3256.0 964.0 L3344.0 1008.0 L3316.0 1064.0 L3230.0 1016.0Z" fill="#e3e3e3"/>
<path d="M3636.0 1088.0 L3708.0 1140.0 L3680.0 1192.0 L3604.0 1144.0Z" fill="#e3e3e3"/>
<path d="M3176.0 1116.0 L3256.0 1164.0 L3232.0 1210.0 L3144.0 1168.0Z" fill="#e3e3e3"/>
<path d="M3500.0 1068.0 L3532.0 1088.0 L3512.0 1128.0 L3476.0 1112.0Z" fill="#e3e3e3"/>
<path d="M3012.0 1402.0 L3092.0 1450.0 L3068.0 1494.0 L3000.0 1458.0Z" fill="#e3e3e3"/>
<path d="M3182.0 1428.0 L3240.0 1462.0 L3216.0 1506.0 L3154.0 1482.0Z" fill="#e3e3e3"/>
<path d="M3416.0 1470.0 L3500.0 1522.0 L3472.0 1562.0 L3384.0 1526.0Z" fill="#e3e3e3"/>
<path d="M3080.0 1286.0 L3112.0 1306.0 L3080.0 1362.0 L3046.0 1340.0Z" fill="#e3e3e3"/>
<path d="M3128.0 1530.0 L3216.0 1576.0 L3188.0 1634.0 L3098.0 1586.0Z" fill="#e3e3e3"/>
<path d="M3468.0 1368.0 L3554.0 1416.0 L3520.0 1482.0 L3438.0 1428.0Z" fill="#e3e3e3"/>
<path d="M4290.0 1254.0 L4330.0 1278.0 L4294.0 1342.0 L4246.0 1314.0Z" fill="#e3e3e3"/>
<path d="M4046.0 1498.0 L4078.0 1520.0 L4046.0 1570.0 L4010.0 1546.0Z" fill="#e3e3e3"/>
<path d="M3276.0 1860.0 L3344.0 1860.0 L3320.0 1920.0 L3260.0 1888.0Z" fill="#e3e3e3"/>
<path d="M3100.0 2024.0 L3132.0 2036.0 L3120.0 2088.0 L3084.0 2084.0Z" fill="#e3e3e3"/>
<path d="M3200.0 2060.0 L3260.0 2082.0 L3242.0 2140.0 L3182.0 2118.0Z" fill="#e3e3e3"/>
<path d="M3392.0 2092.0 L3424.0 2086.0 L3432.0 2124.0 L3384.0 2128.0Z" fill="#e3e3e3"/>
<path d="M3456.0 2076.0 L3508.0 2070.0 L3518.0 2142.0 L3466.0 2152.0Z" fill="#e3e3e3"/>
<path d="M3476.0 2200.0 L3526.0 2190.0 L3536.0 2258.0 L3486.0 2270.0Z" fill="#e3e3e3"/>
<path d="M3100.0 2154.0 L3138.0 2166.0 L3120.0 2256.0 L3086.0 2244.0Z" fill="#e3e3e3"/>
<path d="M3162.0 2176.0 L3224.0 2206.0 L3208.0 2284.0 L3140.0 2262.0Z" fill="#e3e3e3"/>
<path d="M3272.0 2232.0 L3340.0 2248.0 L3328.0 2302.0 L3264.0 2288.0Z" fill="#e3e3e3"/>
<path d="M3220.0 2406.0 L3276.0 2440.0 L3260.0 2476.0 L3200.0 2440.0Z" fill="#e3e3e3"/>
<path d="M3766.0 2016.0 L3828.0 2006.0 L3834.0 2052.0 L3770.0 2062.0Z" fill="#e3e3e3"/>
<path d="M3000.0 2020.0 L3040.0 2020.0 L3028.0 2062.0 L3000.0 2054.0Z" fill="#e3e3e3"/>
<path d="M4240.0 1860.0 L4550.0 1860.0 L4550.0 2516.0 L4240.0 2516.0Z" fill="#ededed"/>
<path d="M4558.8 1860.0 L4590.0 1860.0 L4590.0 2516.0 L4558.8 2516.0Z" fill="#f1f1f1"/>
<path d="M3992.2 2396.9 L4040.3 2426.5 L4005.2 2487.4 L3953.4 2456.0Z" fill="#e3e3e3"/>
<path d="M3920.2 2341.5 L3968.2 2374.8 L3925.7 2435.7 L3881.4 2402.5Z" fill="#e3e3e3"/>
<path d="M3476.0 2550.0 L3600.0 2542.0 L3616.0 2642.0 L3588.0 2674.0 L3476.0 2602.0Z" fill="#ebebeb"/>
<path d="M3748.0 2542.0 L3918.4 2542.0 L3918.4 2862.0 L3748.0 2814.0Z" fill="#ebebeb"/>
<path d="M3420.0 2522.0 L3472.0 2554.0 L3452.0 2590.0 L3398.0 2556.0Z" fill="#e3e3e3"/>
<path d="M4566.8 2510.0 L4590.0 2510.0 L4590.0 2910.0 L4566.8 2910.0Z" fill="#f1f1f1"/>
<path d="M2779.6 1830.7 L2865.8 1880.3 L2826.7 1982.2 L2745.6 1885.5Z" fill="#e3e3e3"/>
<path d="M2865.8 1739.2 L2939.0 1783.6 L2903.7 1842.4 L2837.1 1786.2Z" fill="#e3e3e3"/>
<path d="M2694.7 1984.8 L2761.3 2017.5 L2730.0 2092.0 L2662.0 2050.2Z" fill="#e3e3e3"/>
<path d="M2800.5 2037.1 L2852.8 2060.6 L2826.7 2128.6 L2774.4 2128.6Z" fill="#e3e3e3"/>
<path d="M2761.3 2100.0 L2837.1 2100.0 L2817.5 2175.8 L2748.3 2154.9Z" fill="#e3e3e3"/>
</g>
<g id="m-white">
<path d="M4023.6 1955.4 L4219.5 1922.2 L4219.5 2446.8 L4153.0 2483.7 L4056.9 2424.6 L3960.8 2354.4 L4020.0 2269.5 L4056.9 2121.7 L4079.1 1992.4Z" fill="#f9f9f9"/>
<path d="M3447.0 2315.0 L3552.0 2308.0 L3500.0 2420.0 L3455.0 2512.0 L3415.0 2490.0 L3432.0 2460.0 L3447.0 2420.0Z" fill="#ffffff"/>
<path d="M3600.0 1440.0 L3730.0 1139.0 L3760.0 1160.0 L3650.0 1420.0 L3600.0 1560.0 L3560.0 1560.0Z" fill="#fbfbfb"/>
<path d="M3775 2768L3799 2781L3794 2791L3769 2778ZM4133 2729L4151 2738L4145 2749L4127 2739ZM3017 2112L3038 2072L3047 2076L3026 2117ZM3337 1841L3373 1860L3368 1871L3332 1851ZM3001 2042L3025 2056L3019 2067L2994 2054ZM3508 1158L3519 1138L3531 1144L3520 1164ZM3470 2138L3493 2095L3504 2101L3482 2144ZM4228 2520L4248 2530L4244 2538L4224 2528ZM3458 854L3473 826L3486 832L3470 861ZM3447 1728L3489 1751L3483 1762L3441 1739ZM3597 1177L3625 1192L3620 1201L3592 1186ZM3701 762L3723 774L3717 785L3695 773ZM3197 1218L3220 1175L3228 1179L3205 1222ZM3397 2456L3433 2475L3428 2484L3392 2465ZM3434 1473L3473 1494L3469 1503L3429 1482ZM3854 2524L3868 2497L3877 2502L3863 2529ZM4505 2272L4533 2287L4528 2297L4500 2282ZM3310 1868L3327 1835L3339 1842L3321 1874ZM3472 1691L3516 1715L3511 1724L3467 1701ZM4203 2173L4243 2195L4238 2204L4198 2183ZM4102 2409L4121 2420L4117 2428L4097 2417ZM3681 752L3719 772L3713 783L3675 762ZM3383 2010L3409 1962L3420 1968L3395 2016ZM3076 1372L3089 1348L3101 1354L3088 1378ZM4286 2477L4330 2500L4325 2508L4282 2485ZM3300 1699L3331 1716L3326 1726L3294 1709ZM4403 1931L4412 1914L4421 1918L4411 1936ZM3372 1956L3386 1929L3395 1934L3381 1960ZM3129 2265L3171 2287L3165 2298L3123 2275ZM3428 2106L3445 2116L3439 2127L3422 2118ZM3744 1077L3768 1031L3778 1036L3754 1082ZM3547 2182L3585 2202L3580 2211L3542 2191ZM4128 2823L4157 2839L4151 2850L4122 2834ZM4375 2233L4386 2212L4394 2216L4383 2237ZM3138 1193L3156 1158L3165 1162L3146 1197ZM3646 842L3678 859L3672 870L3641 853ZM4399 2924L4445 2949L4440 2958L4394 2934ZM3248 2359L3280 2376L3274 2388L3242 2371ZM3521 2621L3557 2640L3551 2650L3516 2631ZM4350 2581L4373 2593L4367 2605L4344 2593ZM3871 744L3898 758L3893 767L3866 753ZM2690 1939L2700 1920L2710 1925L2700 1944ZM2748 2124L2769 2134L2763 2145L2743 2134ZM3305 2180L3316 2159L3324 2163L3313 2185ZM2877 1864L2909 1881L2904 1890L2872 1873ZM3364 1118L3374 1098L3383 1102L3372 1122ZM3566 2687L3582 2696L3576 2708L3559 2699ZM4139 1975L4159 1936L4168 1941L4147 1979ZM3588 1335L3612 1290L3619 1294L3595 1339ZM3013 1999L3055 2021L3049 2032L3007 2010ZM3039 2046L3064 1998L3071 2002L3046 2050ZM3943 2509L3970 2523L3964 2535L3937 2520ZM3368 852L3381 829L3392 834L3379 858ZM2983 1425L3009 1378L3021 1384L2996 1432ZM4112 2722L4152 2743L4147 2754L4106 2732ZM3804 2612L3826 2571L3834 2575L3812 2616ZM3245 1036L3271 988L3281 994L3256 1041ZM4431 2747L4452 2707L4464 2713L4442 2753ZM4206 2472L4229 2428L4238 2432L4214 2477ZM2948 1707L2960 1683L2970 1689L2957 1712ZM3927 2292L3942 2264L3953 2270L3938 2298ZM3916 2799L3959 2822L3954 2831L3911 2809ZM3862 2583L3876 2556L3886 2561L3872 2588ZM3390 2024L3421 2041L3416 2050L3385 2033ZM3884 2494L3904 2504L3898 2515L3878 2505ZM3273 1178L3297 1133L3307 1138L3283 1183ZM3337 1815L3362 1768L3372 1773L3347 1820ZM2878 1864L2887 1848L2895 1852L2886 1868ZM3466 2499L3490 2512L3485 2521L3461 2508ZM3660 2646L3677 2613L3686 2618L3669 2651ZM4354 2169L4372 2179L4367 2189L4348 2179ZM3879 2111L3894 2083L3904 2088L3889 2116ZM3444 2395L3468 2350L3479 2355L3455 2400ZM3734 1979L3743 1961L3753 1966L3743 1983ZM4512 2122L4554 2145L4548 2155L4506 2133ZM4483 2265L4521 2285L4516 2294L4478 2273ZM3700 2532L3742 2554L3737 2563L3695 2541ZM3592 2656L3613 2667L3607 2678L3586 2667ZM3139 1506L3186 1531L3180 1543L3132 1518ZM3433 879L3457 892L3452 902L3428 889ZM3451 2558L3488 2578L3482 2589L3445 2570ZM3491 1915L3529 1935L3523 1946L3485 1926ZM3612 1322L3632 1286L3640 1290L3621 1327ZM3650 2398L3670 2360L3680 2365L3659 2403ZM3843 2890L3863 2853L3874 2859L3854 2896ZM3339 2513L3354 2485L3362 2490L3347 2517ZM3900 2713L3921 2723L3916 2732L3896 2722ZM3375 1819L3399 1775L3409 1781L3386 1825ZM3361 1975L3374 1950L3385 1956L3372 1981ZM3898 2395L3915 2363L3927 2369L3910 2401ZM4041 2521L4078 2540L4072 2552L4035 2532ZM3962 2252L3998 2271L3994 2280L3958 2260ZM3765 2533L3790 2547L3785 2555L3761 2542ZM2728 2183L2776 2209L2770 2220L2722 2195ZM3672 2495L3689 2504L3683 2515L3666 2506ZM3000 2105L3015 2078L3024 2083L3009 2110ZM4183 1871L4200 1880L4194 1891L4177 1882ZM2670 2080L2709 2101L2704 2111L2665 2090ZM3579 2009L3592 1985L3603 1991L3591 2015ZM4170 2847L4196 2862L4190 2874L4163 2860ZM3509 961L3525 931L3536 936L3520 967ZM3467 1419L3489 1431L3484 1440L3462 1428ZM2937 2327L2970 2344L2965 2354L2932 2336ZM3079 1950L3099 1912L3111 1918L3091 1957ZM4453 2749L4493 2770L4487 2781L4447 2760ZM4283 2294L4320 2313L4315 2322L4279 2302ZM2868 2083L2916 2109L2911 2118L2863 2092ZM4357 2486L4388 2503L4384 2510L4353 2494ZM4384 2462L4415 2479L4409 2490L4377 2473ZM2765 1929L2798 1946L2793 1954L2761 1937ZM3973 2845L3998 2797L4008 2802L3982 2850ZM3314 2500L3357 2523L3353 2531L3310 2508ZM2980 2004L2995 1976L3002 1980L2987 2008ZM3624 814L3638 788L3648 793L3634 820ZM3526 2126L3538 2104L3546 2108L3534 2131ZM3315 867L3350 886L3346 894L3311 875ZM3464 1977L3500 1997L3495 2008L3458 1988ZM3351 2212L3372 2173L3381 2177L3360 2216ZM3758 772L3782 785L3775 797L3751 785ZM3334 2479L3356 2436L3367 2442L3344 2485ZM4519 2486L4536 2495L4533 2503L4515 2493ZM3898 2773L3935 2793L3928 2805L3892 2785ZM4512 2269L4534 2280L4528 2292L4506 2280ZM3574 902L3597 860L3608 867L3586 908ZM3666 2551L3683 2518L3693 2524L3676 2556ZM3141 1547L3157 1556L3151 1567L3135 1558ZM4219 2528L4235 2497L4243 2501L4227 2532ZM2966 1638L2976 1618L2988 1625L2978 1644ZM3254 874L3275 834L3286 840L3265 880ZM3159 2409L3170 2388L3180 2394L3169 2414ZM3941 2010L3974 2027L3969 2037L3936 2019ZM3773 2158L3797 2112L3808 2118L3784 2164ZM4384 2592L4405 2552L4413 2556L4392 2595ZM3154 1434L3181 1448L3177 1456L3150 1442ZM4518 2171L4542 2125L4553 2131L4529 2177ZM3099 1206L3129 1221L3125 1228L3096 1213ZM4332 2778L4346 2751L4358 2757L4343 2784ZM4339 2490L4357 2457L4365 2461L4347 2494ZM3179 2100L3194 2072L3204 2077L3189 2105ZM2870 1882L2889 1845L2899 1850L2880 1888ZM3942 2866L3961 2876L3956 2884L3938 2874ZM3062 2277L3110 2302L3106 2310L3058 2285ZM3926 2219L3966 2241L3961 2252L3920 2230ZM3841 2021L3860 1984L3871 1990L3851 2027ZM3278 976L3288 956L3298 961L3288 981ZM3371 2219L3402 2235L3396 2246L3365 2230ZM4265 2480L4303 2500L4299 2509L4261 2489ZM2864 2148L2899 2167L2893 2177L2858 2159ZM3864 1946L3887 1958L3883 1966L3860 1953ZM3288 1856L3299 1836L3307 1841L3297 1860ZM3116 1505L3157 1526L3153 1535L3112 1513ZM2990 1515L3018 1530L3012 1540L2984 1525ZM3887 2562L3910 2575L3906 2582L3883 2569ZM2789 1738L2810 1749L2806 1758L2784 1746ZM3267 1706L3313 1731L3308 1741L3261 1716ZM2993 2373L3011 2339L3023 2345L3005 2379ZM4450 1862L4463 1838L4471 1843L4458 1866ZM3482 2320L3500 2330L3495 2339L3477 2329ZM2962 2183L2977 2155L2985 2160L2970 2187ZM3520 1061L3529 1045L3539 1050L3531 1067ZM3016 1778L3052 1797L3046 1807L3011 1788ZM4162 2808L4202 2829L4195 2841L4155 2819ZM2996 2005L3042 2030L3038 2037L2992 2013ZM4051 2008L4076 1962L4085 1967L4061 2013ZM3016 1727L3049 1745L3043 1757L3010 1739ZM4549 2063L4572 2075L4566 2087L4543 2075ZM3197 1568L3224 1582L3219 1593L3192 1578ZM3298 1034L3321 991L3328 995L3305 1038ZM3065 1675L3099 1693L3094 1704L3059 1685ZM2822 1831L2857 1850L2850 1861L2816 1843ZM3876 2648L3901 2601L3909 2606L3884 2653ZM3360 743L3406 768L3402 775L3356 751ZM3123 1289L3170 1314L3164 1326L3116 1301ZM3610 2619L3632 2577L3643 2582L3620 2625ZM3868 2012L3891 1970L3903 1976L3880 2019ZM4360 1946L4381 1958L4376 1969L4354 1957ZM3023 1472L3056 1490L3050 1500L3017 1483ZM4039 2095L4056 2064L4067 2069L4050 2100ZM3912 2294L3931 2257L3939 2262L3920 2299ZM2957 1567L3004 1592L2998 1604L2950 1578ZM3888 2402L3908 2413L3904 2421L3884 2410ZM3392 834L3411 799L3423 805L3404 840ZM3263 2255L3294 2271L3289 2279L3259 2263ZM4482 2430L4505 2387L4515 2392L4492 2436ZM3971 2861L3994 2873L3988 2884L3966 2872ZM3751 2586L3796 2609L3790 2620L3746 2596ZM2903 2239L2919 2248L2915 2256L2899 2247ZM4432 2889L4443 2868L4452 2873L4441 2893ZM3191 1592L3223 1608L3218 1617L3187 1600ZM2730 2099L2750 2060L2759 2064L2738 2103ZM3530 1058L3576 1082L3571 1092L3525 1068ZM2859 2227L2887 2242L2881 2253L2853 2238ZM4159 2482L4178 2493L4172 2503L4153 2493ZM3967 2482L4009 2504L4004 2513L3962 2490ZM3887 1953L3898 1933L3906 1937L3895 1958ZM2768 2094L2791 2107L2787 2115L2763 2102ZM3628 2303L3645 2312L3639 2323L3622 2314ZM3130 2134L3151 2096L3161 2101L3141 2140ZM4097 2567L4118 2527L4130 2534L4109 2573ZM3170 1386L3191 1347L3198 1351L3177 1390ZM3575 971L3621 996L3615 1008L3568 983ZM3277 2280L3310 2298L3304 2309L3271 2291ZM3517 1209L3555 1229L3551 1238L3513 1218ZM3502 2270L3543 2292L3539 2301L3498 2279ZM4412 2784L4448 2803L4444 2811L4408 2792ZM3488 2082L3501 2056L3509 2060L3495 2086ZM2871 1853L2914 1876L2910 1884L2867 1861ZM3232 912L3256 925L3249 937L3226 925ZM3063 2333L3108 2357L3102 2369L3057 2345ZM4475 2045L4488 2020L4498 2025L4484 2051ZM3231 1222L3244 1198L3254 1203L3241 1227ZM3189 1024L3229 1045L3225 1054L3185 1033ZM3383 2521L3427 2545L3422 2555L3378 2531ZM4078 2023L4123 2047L4117 2059L4072 2035ZM4259 2521L4284 2534L4279 2543L4254 2530ZM3261 1521L3272 1502L3280 1506L3270 1526ZM3367 2091L3412 2115L3406 2126L3362 2102ZM4394 2519L4419 2471L4430 2476L4405 2525ZM4244 2619L4267 2574L4275 2578L4252 2623ZM4045 2220L4065 2183L4072 2187L4053 2224ZM3226 2432L3267 2454L3261 2465L3220 2443ZM3238 1206L3258 1217L3253 1225L3234 1215ZM3473 1551L3515 1573L3508 1586L3466 1563ZM3819 2719L3836 2688L3848 2694L3831 2726ZM3700 899L3718 864L3730 870L3711 905ZM3515 1585L3560 1608L3554 1619L3510 1595ZM3269 1461L3316 1486L3311 1497L3263 1472ZM2728 1833L2770 1855L2764 1867L2722 1844ZM2992 2379L3015 2337L3023 2342L3001 2384ZM3306 2263L3352 2288L3347 2296L3301 2272Z" fill="#e2e2e2"/>
<path d="M3206 2346L3225 2309L3240 2317L3220 2353ZM3671 2490L3690 2454L3709 2464L3690 2500ZM4072 2625L4117 2649L4108 2668L4062 2643ZM4342 2755L4383 2678L4398 2685L4357 2762ZM3662 947L3722 979L3713 997L3653 965ZM3093 1590L3146 1618L3139 1632L3085 1603ZM3988 2385L4008 2346L4020 2352L3999 2391ZM2888 2067L2928 1993L2939 1998L2899 2073ZM3984 2345L4048 2380L4039 2396L3975 2362ZM4239 2760L4268 2775L4258 2794L4229 2779ZM4149 2219L4167 2185L4181 2192L4163 2226ZM3368 2051L3410 2074L3404 2085L3362 2062ZM3182 1789L3218 1808L3210 1822L3174 1803ZM2944 1993L2979 2011L2973 2022L2939 2004ZM3952 2855L4000 2880L3993 2893L3945 2867ZM3251 2256L3276 2209L3287 2215L3262 2262ZM4251 2341L4275 2296L4291 2304L4267 2349ZM3350 1656L3373 1614L3388 1622L3365 1664ZM4025 2847L4043 2812L4056 2819L4038 2853ZM4130 2031L4163 1968L4176 1975L4143 2037ZM4357 2476L4385 2490L4378 2503L4350 2488ZM3532 1513L3572 1439L3584 1446L3545 1520ZM4409 2097L4461 2124L4454 2136L4403 2109ZM3770 2438L3810 2460L3804 2473L3763 2451ZM3628 1257L3672 1280L3663 1298L3619 1274ZM3065 2362L3099 2297L3118 2307L3083 2371ZM3659 2752L3690 2769L3680 2787L3649 2771ZM4041 1994L4119 2035L4114 2044L4036 2003ZM3973 2082L4006 2099L4000 2109L3967 2092ZM3760 2229L3801 2151L3814 2158L3773 2236ZM3419 1560L3440 1520L3451 1526L3430 1566ZM3614 2223L3629 2195L3642 2202L3627 2230ZM4317 2047L4340 2003L4353 2010L4330 2054ZM4266 2733L4322 2763L4316 2773L4260 2743ZM3316 2244L3330 2217L3348 2227L3334 2253ZM3884 1985L3919 1920L3932 1927L3897 1992ZM4458 2764L4517 2795L4511 2808L4452 2776ZM4127 2490L4164 2420L4184 2431L4147 2501ZM3185 2372L3225 2393L3217 2408L3177 2387ZM4059 1937L4134 1977L4126 1992L4051 1952ZM4015 2151L4032 2119L4046 2127L4029 2158ZM2975 2169L2997 2127L3009 2134L2987 2175ZM3389 1934L3459 1971L3450 1988L3380 1951ZM2834 2219L2850 2190L2869 2200L2854 2230ZM3468 1698L3532 1732L3523 1749L3459 1715ZM3555 1398L3590 1417L3580 1436L3545 1417ZM4356 2090L4398 2012L4415 2021L4373 2099ZM3615 2637L3642 2587L3652 2592L3625 2642ZM4153 2192L4218 2227L4212 2239L4146 2204ZM4192 2897L4232 2822L4243 2827L4203 2903ZM3490 1796L3512 1755L3524 1762L3503 1803ZM4082 1983L4117 2002L4107 2020L4072 2001ZM4476 2921L4495 2887L4510 2895L4491 2929ZM3316 1889L3359 1912L3355 1921L3311 1898ZM4448 2241L4472 2196L4491 2206L4467 2251ZM3631 2660L3664 2598L3677 2605L3644 2667ZM3655 1139L3683 1086L3693 1091L3665 1145ZM3878 2253L3918 2178L3937 2188L3897 2264ZM3737 2532L3764 2546L3758 2557L3731 2542ZM4317 1810L4360 1833L4350 1852L4306 1829ZM4221 2890L4253 2907L4244 2924L4212 2906ZM3862 2877L3904 2798L3924 2808L3882 2887ZM4004 1892L4050 1916L4040 1935L3995 1911ZM2837 2031L2874 1962L2884 1968L2848 2037ZM3380 1884L3407 1898L3402 1908L3375 1893ZM3022 2369L3061 2390L3052 2408L3013 2387ZM3317 1446L3353 1379L3364 1385L3328 1452ZM3146 1797L3222 1838L3216 1849L3140 1809ZM3142 1361L3217 1401L3208 1417L3133 1377ZM3796 755L3849 783L3843 795L3789 767ZM4036 2320L4064 2266L4075 2272L4046 2325ZM3422 2150L3453 2167L3443 2185L3412 2168ZM2994 1576L3014 1539L3023 1544L3004 1581ZM3079 2205L3100 2167L3113 2174L3093 2212ZM3412 1011L3428 981L3443 989L3427 1019ZM2929 2165L2982 2193L2973 2210L2920 2182ZM4418 2503L4469 2530L4464 2540L4412 2513ZM2792 2252L2825 2188L2840 2196L2807 2260ZM3716 2290L3761 2314L3752 2330L3707 2306ZM4001 2665L4033 2605L4044 2610L4012 2670ZM3316 2179L3342 2194L3337 2203L3311 2189ZM4118 2662L4149 2605L4168 2615L4137 2672ZM4454 1930L4491 1950L4484 1964L4447 1944ZM3217 1481L3270 1510L3262 1525L3209 1497ZM3098 1825L3126 1772L3139 1779L3111 1832ZM2914 1885L2936 1843L2953 1852L2931 1894ZM3117 1543L3182 1577L3172 1594L3108 1560ZM3453 1485L3475 1442L3488 1449L3465 1492ZM3853 2178L3913 2210L3904 2226L3844 2194ZM3583 2159L3660 2200L3651 2218L3573 2176ZM4140 2322L4192 2350L4185 2363L4133 2335ZM3513 2317L3552 2243L3570 2253L3530 2327ZM3428 1592L3471 1615L3461 1634L3418 1611ZM4396 2627L4420 2583L4438 2593L4414 2637ZM3390 1060L3458 1096L3451 1109L3383 1073ZM3343 2000L3383 2021L3378 2030L3338 2009ZM3289 2416L3312 2372L3328 2381L3305 2425ZM3901 2069L3924 2027L3935 2033L3912 2075ZM3721 1951L3764 1974L3760 1984L3716 1960ZM3834 2011L3887 2040L3882 2050L3828 2021ZM3169 1581L3215 1605L3205 1623L3159 1599ZM3302 1192L3333 1132L3350 1141L3319 1201ZM3064 2356L3114 2382L3103 2402L3054 2375ZM3479 1119L3506 1133L3501 1143L3474 1129ZM3283 1663L3311 1609L3323 1616L3295 1669ZM2880 1842L2908 1790L2921 1797L2893 1849ZM3255 1392L3314 1423L3306 1438L3247 1407ZM3277 881L3338 913L3331 928L3269 895ZM3207 1577L3284 1618L3277 1631L3200 1590ZM2859 2147L2921 2180L2913 2194L2852 2161ZM3462 2541L3509 2566L3500 2582L3453 2558ZM3911 2180L3964 2208L3957 2222L3904 2194ZM2886 2159L2919 2096L2931 2102L2897 2165ZM2820 2040L2856 2058L2848 2073L2813 2054ZM3647 928L3699 956L3691 971L3639 943ZM3159 2231L3189 2176L3204 2184L3175 2239ZM3689 1174L3715 1124L3733 1133L3706 1183ZM4204 2132L4236 2149L4228 2164L4196 2147ZM4418 2915L4452 2850L4464 2856L4429 2921ZM4209 2207L4264 2236L4255 2254L4200 2225Z" fill="#f8f8f8"/>
<path d="M4334 882L4354 894L4349 902L4329 890ZM4173 1583L4187 1561L4198 1567L4183 1590ZM4422 1006L4433 988L4444 995L4433 1013ZM3923 1464L3951 1481L3944 1491L3917 1474ZM4035 1540L4058 1502L4066 1507L4043 1545ZM3984 1745L4000 1720L4009 1726L3993 1751ZM4092 1525L4113 1492L4121 1497L4101 1530ZM3929 1711L3947 1683L3956 1688L3938 1716ZM3971 1488L3995 1504L3989 1514L3964 1498ZM4033 1425L4051 1396L4059 1402L4041 1430ZM4013 1623L4032 1593L4041 1598L4023 1629ZM3906 1565L3920 1542L3931 1548L3916 1571ZM4164 1435L4205 1460L4200 1468L4159 1442ZM4151 1293L4164 1274L4171 1278L4159 1298ZM4257 1201L4286 1219L4279 1229L4250 1211ZM4288 1303L4309 1316L4303 1326L4282 1313ZM4416 987L4447 1006L4441 1015L4410 996ZM4418 855L4456 879L4449 889L4411 866ZM4218 1012L4241 1026L4236 1035L4213 1020ZM3889 1459L3925 1481L3918 1492L3882 1470ZM4151 1700L4177 1716L4172 1724L4146 1708ZM4171 1196L4207 1218L4201 1229L4164 1206ZM4192 1360L4206 1338L4215 1344L4201 1366ZM4052 1506L4074 1471L4081 1476L4059 1511ZM4076 1384L4092 1360L4099 1364L4084 1389ZM4043 1579L4058 1556L4067 1561L4053 1585ZM3905 1499L3922 1510L3915 1521L3898 1510ZM4415 1151L4428 1130L4437 1136L4424 1156ZM4237 1057L4279 1082L4273 1091L4232 1065ZM4069 1440L4092 1402L4101 1408L4077 1446ZM4543 962L4570 979L4564 989L4536 972ZM4156 1737L4181 1698L4189 1702L4164 1742ZM4177 1705L4192 1682L4201 1688L4186 1711ZM4409 778L4434 794L4429 801L4404 785ZM4509 833L4531 798L4539 802L4517 837ZM4141 1359L4180 1383L4175 1391L4137 1366ZM4411 1038L4440 1056L4435 1064L4407 1046ZM4040 1372L4054 1349L4062 1353L4047 1377ZM3873 1568L3901 1586L3896 1594L3868 1576ZM4229 1265L4263 1287L4258 1295L4223 1273ZM4016 1608L4036 1576L4044 1581L4024 1612ZM4536 936L4558 950L4552 959L4530 945ZM4198 1482L4216 1493L4210 1503L4192 1491ZM4201 1413L4234 1434L4230 1441L4196 1420ZM4157 1163L4178 1129L4188 1135L4167 1169ZM4140 1359L4159 1329L4166 1334L4148 1363ZM4508 1028L4530 993L4540 999L4517 1034ZM4027 1554L4056 1572L4051 1580L4022 1562ZM4284 973L4308 989L4304 996L4279 981ZM4404 1013L4428 975L4436 980L4412 1018ZM4177 1144L4192 1154L4186 1165L4170 1155ZM4231 1006L4254 1021L4248 1032L4225 1017ZM3908 1633L3918 1617L3928 1623L3918 1639ZM4489 913L4519 932L4514 940L4484 921ZM3960 1499L3979 1468L3989 1475L3970 1505ZM4078 1697L4103 1713L4099 1721L4074 1705ZM4174 1222L4210 1244L4205 1253L4169 1230ZM4005 1446L4045 1471L4040 1478L4000 1453ZM4213 1090L4254 1116L4247 1127L4206 1101ZM4203 1205L4228 1164L4237 1169L4211 1210Z" fill="#e0e0e0"/>
<path d="M4206 1148L4258 1181L4252 1191L4199 1158ZM4299 1345L4325 1361L4319 1370L4293 1354ZM4317 816L4365 847L4360 856L4311 826ZM4297 909L4329 858L4341 866L4310 917ZM4427 791L4490 830L4483 842L4420 802ZM4283 1169L4307 1131L4319 1138L4295 1176ZM4068 1349L4108 1284L4119 1290L4078 1355ZM4197 1432L4227 1384L4238 1391L4208 1440ZM4533 858L4570 799L4577 803L4540 862ZM4474 1029L4500 988L4508 993L4482 1034ZM4243 1399L4267 1360L4278 1367L4254 1406ZM4116 1147L4154 1088L4162 1093L4124 1152ZM4218 1701L4250 1721L4242 1734L4210 1714ZM4050 1502L4081 1452L4089 1457L4058 1507ZM3969 1698L4028 1735L4023 1744L3963 1706ZM3871 1571L3907 1513L3918 1520L3882 1578ZM4055 1485L4089 1431L4101 1438L4067 1493ZM4245 881L4307 920L4299 933L4237 894ZM3889 1535L3947 1571L3942 1580L3884 1544ZM4032 1531L4077 1559L4070 1571L4025 1543ZM4548 919L4576 937L4569 949L4540 931ZM4361 869L4384 833L4395 840L4373 876ZM4148 1212L4175 1229L4170 1238L4143 1221ZM4387 881L4429 907L4423 916L4381 890ZM4422 1004L4447 964L4455 970L4431 1009ZM4334 1273L4360 1232L4373 1240L4347 1281ZM4165 1320L4227 1359L4222 1367L4160 1329ZM4446 908L4490 935L4481 949L4438 921ZM4108 1595L4171 1635L4165 1644L4102 1604ZM4057 1274L4095 1298L4089 1308L4051 1284ZM4116 1592L4150 1613L4143 1625L4108 1604ZM4137 1381L4177 1318L4190 1326L4151 1389ZM4276 1197L4343 1239L4337 1248L4270 1206ZM4257 1185L4293 1208L4287 1217L4251 1194ZM4168 1742L4218 1772L4213 1781L4163 1750ZM3993 1578L4021 1534L4031 1541L4004 1585ZM4107 1677L4167 1714L4162 1723L4102 1686ZM3947 1576L3992 1604L3985 1615L3940 1587ZM4347 1190L4378 1140L4386 1145L4355 1195ZM4337 889L4362 849L4370 854L4345 894ZM4408 1058L4443 1080L4436 1092L4400 1070ZM4402 1150L4438 1092L4449 1099L4412 1156ZM4536 821L4566 773L4576 779L4545 827ZM3829 1535L3863 1556L3857 1566L3823 1545ZM4006 1420L4064 1456L4057 1467L3999 1431Z" fill="#f8f8f8"/>
<path d="M4456 2540L4479 2540L4479 2551L4456 2551ZM4471 2056L4471 2083L4461 2083L4461 2056ZM4333 2602L4368 2602L4368 2611L4333 2611ZM4285 2618L4285 2639L4276 2639L4276 2618ZM4407 2120L4407 2166L4395 2166L4395 2120ZM4455 2568L4490 2568L4490 2577L4455 2577ZM4540 1870L4540 1897L4530 1897L4530 1870ZM4381 2769L4381 2786L4369 2786L4369 2769ZM4254 2766L4254 2791L4245 2791L4245 2766ZM4345 1986L4367 1986L4367 1995L4345 1995ZM4363 2172L4397 2172L4397 2184L4363 2184ZM4354 2776L4354 2819L4344 2819L4344 2776ZM4350 1982L4350 2029L4339 2029L4339 1982ZM4531 2757L4531 2775L4520 2775L4520 2757ZM4393 2707L4421 2707L4421 2718L4393 2718ZM4310 2488L4310 2518L4297 2518L4297 2488ZM4465 1899L4465 1924L4456 1924L4456 1899ZM4384 2042L4427 2042L4427 2050L4384 2050ZM4512 1986L4512 2010L4500 2010L4500 1986ZM4534 2197L4534 2226L4521 2226L4521 2197ZM4526 2765L4549 2765L4549 2775L4526 2775ZM4259 2721L4302 2721L4302 2733L4259 2733ZM4266 2832L4285 2832L4285 2844L4266 2844ZM4347 2547L4347 2576L4335 2576L4335 2547ZM4506 2253L4549 2253L4549 2263L4506 2263ZM4341 2412L4341 2429L4331 2429L4331 2412ZM4490 2548L4521 2548L4521 2561L4490 2561ZM4515 1947L4555 1947L4555 1959L4515 1959ZM4234 2798L4265 2798L4265 2809L4234 2809ZM4333 1876L4333 1923L4324 1923L4324 1876ZM4291 2854L4291 2895L4282 2895L4282 2854ZM4521 2524L4521 2559L4513 2559L4513 2524ZM4517 1869L4547 1869L4547 1877L4517 1877ZM4282 2811L4282 2856L4271 2856L4271 2811ZM4439 2364L4472 2364L4472 2372L4439 2372ZM4493 1980L4493 2026L4483 2026L4483 1980ZM4298 2329L4336 2329L4336 2340L4298 2340ZM4405 2363L4405 2413L4395 2413L4395 2363ZM4350 2176L4350 2196L4339 2196L4339 2176ZM4501 2353L4547 2353L4547 2365L4501 2365ZM4454 2170L4495 2170L4495 2179L4454 2179ZM4415 2648L4436 2648L4436 2658L4415 2658ZM4493 2848L4493 2868L4484 2868L4484 2848ZM4445 2617L4483 2617L4483 2629L4445 2629ZM4396 2795L4434 2795L4434 2806L4396 2806ZM4399 2617L4399 2652L4390 2652L4390 2617ZM4378 2289L4378 2324L4368 2324L4368 2289ZM4379 2221L4379 2270L4370 2270L4370 2221ZM4469 2254L4469 2285L4458 2285L4458 2254ZM4324 1863L4324 1908L4311 1908L4311 1863ZM4377 2191L4395 2191L4395 2203L4377 2203ZM4324 2108L4324 2147L4312 2147L4312 2108ZM4341 2100L4384 2100L4384 2112L4341 2112ZM4285 2445L4285 2494L4274 2494L4274 2445ZM4269 1927L4309 1927L4309 1935L4269 1935ZM4424 2342L4470 2342L4470 2355L4424 2355ZM4260 2460L4290 2460L4290 2469L4260 2469ZM4454 1988L4478 1988L4478 1998L4454 1998ZM4322 2310L4365 2310L4365 2318L4322 2318ZM4321 2819L4369 2819L4369 2829L4321 2829ZM4284 2266L4284 2303L4273 2303L4273 2266ZM4260 1978L4260 2013L4251 2013L4251 1978ZM4416 2775L4449 2775L4449 2784L4416 2784ZM4333 2649L4333 2671L4324 2671L4324 2649ZM4524 2026L4524 2048L4516 2048L4516 2026ZM4351 2248L4351 2290L4341 2290L4341 2248ZM4342 2647L4388 2647L4388 2657L4342 2657ZM4327 2841L4327 2875L4315 2875L4315 2841ZM4304 2002L4350 2002L4350 2011L4304 2011ZM4389 2390L4389 2413L4380 2413L4380 2390ZM4457 2411L4457 2427L4446 2427L4446 2411ZM4254 2126L4277 2126L4277 2139L4254 2139ZM4349 2108L4349 2134L4339 2134L4339 2108ZM4465 2660L4504 2660L4504 2673L4465 2673ZM4269 1910L4290 1910L4290 1920L4269 1920ZM4479 2457L4509 2457L4509 2466L4479 2466ZM4480 2206L4480 2223L4467 2223L4467 2206ZM4483 1984L4521 1984L4521 1993L4483 1993ZM4324 1966L4346 1966L4346 1978L4324 1978ZM4444 2546L4444 2571L4435 2571L4435 2546ZM4548 1895L4548 1932L4539 1932L4539 1895ZM4365 2806L4389 2806L4389 2814L4365 2814ZM4450 2375L4450 2397L4438 2397L4438 2375ZM4281 2109L4314 2109L4314 2119L4281 2119ZM4449 2769L4481 2769L4481 2777L4449 2777ZM4240 2186L4261 2186L4261 2197L4240 2197ZM4290 2145L4290 2190L4278 2190L4278 2145ZM4438 2668L4468 2668L4468 2676L4438 2676ZM4347 1994L4347 2016L4337 2016L4337 1994ZM4344 2422L4379 2422L4379 2432L4344 2432ZM4248 2197L4295 2197L4295 2209L4248 2209ZM4482 2390L4482 2432L4471 2432L4471 2390ZM4327 1946L4327 1991L4318 1991L4318 1946ZM4388 1966L4428 1966L4428 1978L4388 1978ZM4501 2185L4522 2185L4522 2196L4501 2196ZM4364 2206L4364 2227L4352 2227L4352 2206ZM4478 2208L4505 2208L4505 2218L4478 2218ZM4493 2222L4532 2222L4532 2232L4493 2232ZM4461 2426L4489 2426L4489 2436L4461 2436ZM4478 2174L4497 2174L4497 2183L4478 2183ZM4240 2683L4274 2683L4274 2693L4240 2693ZM4376 2423L4376 2442L4363 2442L4363 2423ZM4268 2543L4306 2543L4306 2555L4268 2555ZM4519 1918L4535 1918L4535 1927L4519 1927ZM4270 2402L4312 2402L4312 2411L4270 2411ZM4523 2610L4523 2640L4513 2640L4513 2610ZM4516 2656L4556 2656L4556 2665L4516 2665ZM4378 2670L4407 2670L4407 2682L4378 2682ZM4360 2433L4403 2433L4403 2444L4360 2444ZM4227 2771L4267 2771L4267 2781L4227 2781Z" fill="#dcdcdc"/>
<path d="M4296 2178L4296 2244L4285 2244L4285 2178ZM4550 2509L4550 2541L4543 2541L4543 2509ZM4422 2174L4422 2217L4413 2217L4413 2174ZM4525 2688L4525 2746L4516 2746L4516 2688ZM4388 2214L4467 2214L4467 2226L4388 2226ZM4499 1928L4499 1964L4491 1964L4491 1928ZM4379 2830L4379 2902L4367 2902L4367 2830ZM4290 1890L4334 1890L4334 1897L4290 1897ZM4341 2521L4341 2580L4331 2580L4331 2521ZM4472 2533L4472 2599L4463 2599L4463 2533ZM4336 1884L4336 1937L4327 1937L4327 1884ZM4511 2721L4511 2794L4500 2794L4500 2721ZM4304 2110L4304 2177L4292 2177L4292 2110ZM4252 2203L4252 2251L4242 2251L4242 2203ZM4505 2174L4505 2249L4497 2249L4497 2174ZM4304 2816L4304 2875L4293 2875L4293 2816ZM4415 2571L4415 2650L4404 2650L4404 2571ZM4364 2850L4364 2907L4352 2907L4352 2850ZM4257 2804L4257 2847L4248 2847L4248 2804ZM4426 2774L4426 2852L4414 2852L4414 2774ZM4500 1863L4500 1914L4488 1914L4488 1863ZM4335 2452L4377 2452L4377 2463L4335 2463ZM4279 2783L4279 2816L4269 2816L4269 2783ZM4294 1909L4294 1989L4283 1989L4283 1909ZM4490 2811L4490 2888L4481 2888L4481 2811ZM4369 2856L4435 2856L4435 2866L4369 2866ZM4333 2431L4405 2431L4405 2438L4333 2438ZM4223 2409L4282 2409L4282 2416L4223 2416ZM4383 2032L4383 2082L4373 2082L4373 2032ZM4249 1930L4249 1996L4242 1996L4242 1930ZM4493 2703L4493 2777L4486 2777L4486 2703ZM4477 2451L4477 2499L4470 2499L4470 2451ZM4320 2424L4320 2503L4313 2503L4313 2424ZM4435 1974L4476 1974L4476 1983L4435 1983ZM4347 2162L4347 2216L4340 2216L4340 2162ZM4461 2162L4461 2232L4454 2232L4454 2162ZM4397 2324L4473 2324L4473 2331L4397 2331ZM4430 2239L4466 2239L4466 2249L4430 2249ZM4393 2315L4393 2379L4383 2379L4383 2315ZM4273 2333L4330 2333L4330 2344L4273 2344ZM4393 2197L4434 2197L4434 2207L4393 2207ZM4280 2563L4360 2563L4360 2571L4280 2571ZM4381 2492L4381 2565L4374 2565L4374 2492ZM4521 1931L4566 1931L4566 1940L4521 1940ZM4439 2777L4439 2841L4433 2841L4433 2777ZM4240 2301L4272 2301L4272 2311L4240 2311ZM4312 2709L4312 2760L4300 2760L4300 2709ZM4438 2396L4438 2439L4428 2439L4428 2396ZM4325 2157L4325 2231L4316 2231L4316 2157ZM4300 2482L4371 2482L4371 2489L4300 2489ZM4338 2395L4389 2395L4389 2404L4338 2404ZM4529 2764L4529 2831L4518 2831L4518 2764ZM4261 2677L4261 2741L4251 2741L4251 2677ZM4329 2772L4329 2828L4323 2828L4323 2772ZM4311 1933L4390 1933L4390 1944L4311 1944ZM4228 2287L4264 2287L4264 2297L4228 2297ZM4487 2652L4487 2688L4481 2688L4481 2652ZM4472 2704L4528 2704L4528 2711L4472 2711ZM4287 2183L4287 2213L4276 2213L4276 2183ZM4449 2674L4508 2674L4508 2686L4449 2686Z" fill="#f9f9f9"/>
</g>
<g id="m-road">
<path d="M3309.0 740.0 L3271.0 828.0 L3197.0 968.0 L3089.0 1172.0 L2983.0 1358.0 L2878.0 1533.0" fill="none" stroke="#dcdcdc" stroke-width="29.0" stroke-linecap="butt" stroke-linejoin="round"/>
<path d="M2886.0 1536.0 L2789.0 1691.0 L2693.0 1891.0 L2585.0 2115.0 L2563.0 2151.0" fill="none" stroke="#dcdcdc" stroke-width="19.0" stroke-linecap="butt" stroke-linejoin="round"/>
<path d="M2590.0 2164.0 L2840.0 2277.0 L3066.0 2408.0 L3293.0 2538.0 L3462.0 2640.0 L3632.0 2753.0 L3720.0 2818.0 L3800.0 2842.0 L3918.0 2875.0 L4078.0 2894.0 L4278.0 2914.0 L4518.0 2934.0" fill="none" stroke="#d6d6d6" stroke-width="30.0" stroke-linecap="butt" stroke-linejoin="round"/>
<path d="M3292.0 844.0 L3400.0 904.0 L3472.0 944.0 L3532.0 992.0 L3616.0 1036.0 L3680.0 1076.0 L3760.0 1120.0 L3918.4 1200.0" fill="none" stroke="#cfcfcf" stroke-width="18.0" stroke-linecap="butt" stroke-linejoin="round"/>
<path d="M4358.0 740.0 L4670.0 792.0" fill="none" stroke="#d3d3d3" stroke-width="22.0" stroke-linecap="butt" stroke-linejoin="round"/>
<path d="M4670.0 792.0 L4804.0 832.0" fill="none" stroke="#e8e8e8" stroke-width="22.0" stroke-linecap="butt" stroke-linejoin="round"/>
<path d="M4670.0 792.0 L4598.0 920.0 L4498.0 1092.0 L4418.0 1209.2" fill="none" stroke="#c8c8c8" stroke-width="22.0" stroke-linecap="butt" stroke-linejoin="round"/>
<path d="M4334.0 768.0 L4238.0 936.0 L4166.0 1060.0 L4078.0 1209.2" fill="none" stroke="#d0d0d0" stroke-width="18.0" stroke-linecap="butt" stroke-linejoin="round"/>
<path d="M4250.0 944.0 L4438.0 1080.0" fill="none" stroke="#d5d5d5" stroke-width="16.0" stroke-linecap="butt" stroke-linejoin="round"/>
<path d="M3176.0 1242.0 L3280.0 1262.0 L3400.0 1286.0 L3520.0 1300.0 L3620.0 1330.0 L3660.0 1342.0" fill="none" stroke="#d2d2d2" stroke-width="20.0" stroke-linecap="butt" stroke-linejoin="round"/>
<path d="M2925.0 1512.0 L3000.0 1564.5 L3100.0 1637.0 L3200.0 1709.5 L3300.0 1782.0 L3383.0 1838.0 L3461.0 1890.0 L3520.0 1924.0 L3600.0 1950.0 L3700.0 1966.0 L3800.0 1960.0 L3918.0 1931.0 L4038.0 1904.0 L4158.0 1880.0 L4214.0 1860.0" fill="none" stroke="#d4d4d4" stroke-width="34.0" stroke-linecap="butt" stroke-linejoin="round"/>
<path d="M3660.0 1342.0 L3616.0 1350.0 L3560.0 1458.0 L3500.0 1570.0 L3440.0 1690.0 L3360.0 1810.0" fill="none" stroke="#d0d0d0" stroke-width="22.0" stroke-linecap="butt" stroke-linejoin="round"/>
<path d="M3520.0 1506.0 L3604.0 1550.0" fill="none" stroke="#d5d5d5" stroke-width="14.0" stroke-linecap="butt" stroke-linejoin="round"/>
<path d="M3496.0 1222.0 L3456.0 1306.0" fill="none" stroke="#c8c8c8" stroke-width="16.0" stroke-linecap="butt" stroke-linejoin="round"/>
<path d="M4418.0 1210.0 L4318.0 1370.0 L4258.0 1466.0 L4238.0 1498.0 L4236.0 1610.0 L4232.0 1859.2" fill="none" stroke="#c9c9c9" stroke-width="24.0" stroke-linecap="butt" stroke-linejoin="round"/>
<path d="M4078.0 1210.0 L3958.0 1402.0" fill="none" stroke="#d0d0d0" stroke-width="18.0" stroke-linecap="butt" stroke-linejoin="round"/>
<path d="M4230.0 1859.2 L4258.0 1820.0 L4574.0 1838.0" fill="none" stroke="#b9b9b9" stroke-width="18.0" stroke-linecap="butt" stroke-linejoin="round"/>
<path d="M4002.0 1330.0 L4214.0 1470.0" fill="none" stroke="#d0d0d0" stroke-width="14.0" stroke-linecap="butt" stroke-linejoin="round"/>
<path d="M4150.0 1450.0 L4006.0 1678.0" fill="none" stroke="#d0d0d0" stroke-width="12.0" stroke-linecap="butt" stroke-linejoin="round"/>
<path d="M3958.0 1402.0 L4106.0 1498.0" fill="none" stroke="#d0d0d0" stroke-width="12.0" stroke-linecap="butt" stroke-linejoin="round"/>
<path d="M3918.0 1686.0 L3998.0 1742.0 L4050.0 1770.0 L4206.0 1782.0" fill="none" stroke="#d0d0d0" stroke-width="16.0" stroke-linecap="butt" stroke-linejoin="round"/>
<path d="M3368.0 1860.0 L3328.0 1924.0 L3304.0 2028.0 L3264.0 2172.0 L3224.0 2300.0 L3192.0 2420.0 L3172.0 2509.2" fill="none" stroke="#c9c9c9" stroke-width="22.0" stroke-linecap="butt" stroke-linejoin="round"/>
<path d="M3000.0 1912.0 L3112.0 1992.0 L3200.0 2036.0 L3280.0 2056.0 L3360.0 2056.0 L3500.0 2048.0" fill="none" stroke="#cfcfcf" stroke-width="18.0" stroke-linecap="butt" stroke-linejoin="round"/>
<path d="M3000.0 2084.0 L3120.0 2124.0 L3248.0 2176.0" fill="none" stroke="#c9c9c9" stroke-width="20.0" stroke-linecap="butt" stroke-linejoin="round"/>
<path d="M3208.0 2392.0 L3400.0 2509.2" fill="none" stroke="#d0d0d0" stroke-width="10.0" stroke-linecap="butt" stroke-linejoin="round"/>
<path d="M3752.0 1988.0 L3732.0 2140.0 L3740.0 2260.0 L3760.0 2320.0" fill="none" stroke="#cfcfcf" stroke-width="16.0" stroke-linecap="butt" stroke-linejoin="round"/>
<path d="M3740.0 2084.0 L3918.4 2040.0" fill="none" stroke="#cfcfcf" stroke-width="14.0" stroke-linecap="butt" stroke-linejoin="round"/>
<path d="M3740.0 2244.0 L3918.4 2180.0" fill="none" stroke="#cfcfcf" stroke-width="14.0" stroke-linecap="butt" stroke-linejoin="round"/>
<path d="M3918.4 2332.0 L3820.0 2440.0 L3760.0 2509.2" fill="none" stroke="#c5c5c5" stroke-width="18.0" stroke-linecap="butt" stroke-linejoin="round"/>
<path d="M4234.0 1860.0 L4228.0 2180.0 L4222.0 2460.0 L4158.0 2509.2" fill="none" stroke="#b9b9b9" stroke-width="16.0" stroke-linecap="butt" stroke-linejoin="round"/>
<path d="M4240.0 2116.0 L4550.0 2116.0" fill="none" stroke="#d8d8d8" stroke-width="16.0" stroke-linecap="butt" stroke-linejoin="round"/>
<path d="M4342.0 2116.0 L4342.0 2516.0" fill="none" stroke="#d8d8d8" stroke-width="12.0" stroke-linecap="butt" stroke-linejoin="round"/>
<path d="M4554.0 1860.0 L4554.0 2516.0" fill="none" stroke="#e0e0e0" stroke-width="4.8" stroke-linecap="butt" stroke-linejoin="round"/>
<path d="M4594.0 1860.0 L4594.0 2516.0" fill="none" stroke="#e3e3e3" stroke-width="4.8" stroke-linecap="butt" stroke-linejoin="round"/>
<path d="M4012.0 1956.0 L3930.0 2108.0" fill="none" stroke="#d0d0d0" stroke-width="12.0" stroke-linecap="butt" stroke-linejoin="round"/>
<path d="M4078.0 1992.0 L4050.0 2060.0 L3998.0 2140.0 L3918.0 2260.0" fill="none" stroke="#d0d0d0" stroke-width="12.0" stroke-linecap="butt" stroke-linejoin="round"/>
<path d="M4012.0 2028.0 L4050.0 2068.0" fill="none" stroke="#d0d0d0" stroke-width="12.0" stroke-linecap="butt" stroke-linejoin="round"/>
<path d="M3738.0 2534.0 L3748.0 2814.0" fill="none" stroke="#d0d0d0" stroke-width="12.0" stroke-linecap="butt" stroke-linejoin="round"/>
<path d="M4064.0 2566.0 L4050.0 2710.0 L4026.0 2876.0" fill="none" stroke="#bdbdbd" stroke-width="14.0" stroke-linecap="butt" stroke-linejoin="round"/>
<path d="M3978.0 2510.0 L4064.0 2566.0" fill="none" stroke="#cfcfcf" stroke-width="10.0" stroke-linecap="butt" stroke-linejoin="round"/>
<path d="M4064.0 2566.0 L4090.0 2542.0" fill="none" stroke="#bdbdbd" stroke-width="12.0" stroke-linecap="butt" stroke-linejoin="round"/>
<path d="M4190.0 2646.0 L4278.0 2698.0 L4358.0 2734.0 L4494.0 2750.0" fill="none" stroke="#cfcfcf" stroke-width="12.0" stroke-linecap="butt" stroke-linejoin="round"/>
<path d="M4486.0 2642.0 L4494.0 2750.0" fill="none" stroke="#cfcfcf" stroke-width="12.0" stroke-linecap="butt" stroke-linejoin="round"/>
<path d="M4562.0 2510.0 L4562.0 2910.0" fill="none" stroke="#e0e0e0" stroke-width="5.6" stroke-linecap="butt" stroke-linejoin="round"/>
<path d="M4594.0 2510.0 L4594.0 2910.0" fill="none" stroke="#e8e8e8" stroke-width="5.6" stroke-linecap="butt" stroke-linejoin="round"/>
<path d="M2784.8 1781.0 L2892.0 1846.3 L3100.0 1963.9" fill="none" stroke="#d5d5d5" stroke-width="15.7" stroke-linecap="butt" stroke-linejoin="round"/>
<path d="M2716.9 1950.9 L2839.7 2005.7 L2970.4 2047.6 L3100.0 2086.8" fill="none" stroke="#d5d5d5" stroke-width="19.6" stroke-linecap="butt" stroke-linejoin="round"/>
</g>
<g id="m-road2">
<path d="M3384.0 640.0 L3336.0 752.0 L3298.0 840.0 L3224.0 980.0 L3116.0 1184.0 L3010.0 1370.0 L2905.0 1545.0 L2808.0 1700.0 L2712.0 1900.0 L2604.0 2124.0 L2582.0 2160.0" fill="none" stroke="#b0b0b0" stroke-width="23.0" stroke-linecap="butt" stroke-linejoin="round"/>
<path d="M2925.0 1512.0 L3000.0 1564.5 L3100.0 1637.0 L3200.0 1709.5 L3300.0 1782.0 L3383.0 1838.0 L3461.0 1890.0 L3520.0 1924.0 L3600.0 1950.0 L3700.0 1966.0 L3800.0 1960.0 L3918.0 1931.0 L4038.0 1904.0 L4158.0 1880.0 L4214.0 1860.0" fill="none" stroke="#b4b4b4" stroke-width="20.0" stroke-linecap="butt" stroke-linejoin="round"/>
</g>
<g id="m-gray">
<path d="M3374.0 788.0 L3354.0 779.2 L3326.0 832.0 L3360.0 854.0" fill="none" stroke="#b0b0b0" stroke-width="14.0" stroke-linecap="butt" stroke-linejoin="miter"/>
<path d="M3772.0 850.0 L3860.0 892.0 L3760.0 1108.0 L3674.0 1066.0Z" fill="#a8a8a8"/>
<path d="M3844.0 972.0 L3860.0 980.0 L3830.0 1034.0 L3814.0 1026.0Z" fill="#a8a8a8"/>
<path d="M3800.0 1038.0 L3816.0 1046.0 L3794.0 1096.0 L3778.0 1088.0Z" fill="#a8a8a8"/>
<path d="M3358.0 1138.0 L3384.0 1146.0 L3372.0 1208.0 L3344.0 1208.0Z" fill="#999"/>
<path d="M3348.0 902.0 L3362.0 908.0 L3344.0 944.0 L3330.0 938.0Z" fill="#aaa"/>
<path d="M4218.0 1020.0 L4238.0 980.0 L4268.0 998.0" fill="none" stroke="#a5a5a5" stroke-width="16.0" stroke-linecap="butt" stroke-linejoin="miter"/>
<path d="M4296.0 1016.0 L4342.0 1046.0 L4332.0 1068.0 L4286.0 1036.0Z" fill="#a5a5a5"/>
<path d="M3162.0 1250.0 L3178.0 1268.0 L3218.0 1270.0 L3256.0 1282.0 L3202.0 1388.0 L3132.0 1378.0 L3120.0 1350.0Z" fill="#a9a9a9"/>
<path d="M3240.0 1324.0 L3256.0 1334.0 L3088.0 1586.0 L3054.0 1568.0Z" fill="#a9a9a9"/>
<path d="M3106.0 1220.0 L3144.0 1244.0 L3130.0 1270.0 L3094.0 1248.0Z" fill="#a9a9a9"/>
<path d="M3000.0 1498.0 L3040.0 1526.0 L3028.0 1550.0 L3000.0 1534.0Z" fill="#a9a9a9"/>
<path d="M3450.0 1310.0 L3280.0 1628.0" fill="none" stroke="#b5b5b5" stroke-width="18.0" stroke-linecap="butt" stroke-linejoin="miter"/>
<path d="M3554.0 1568.0 L3582.0 1568.0 L3588.0 1586.0 L3560.0 1730.0 L3536.0 1859.2 L3424.0 1859.2 L3416.0 1834.0 L3424.0 1810.0 L3472.0 1822.0 L3512.0 1690.0Z" fill="#a9a9a9"/>
<path d="M3650.0 1230.0 L3658.0 1234.0 L3634.0 1280.0 L3624.0 1276.0Z" fill="#b5b5b5"/>
<path d="M3552.0 1230.0 L3534.0 1246.0 L3620.0 1304.0" fill="none" stroke="#c5c5c5" stroke-width="12.0" stroke-linecap="butt" stroke-linejoin="miter"/>
<path d="M4162.0 1412.0 L4198.0 1342.0 L4264.0 1390.0" fill="none" stroke="#a5a5a5" stroke-width="24.0" stroke-linecap="butt" stroke-linejoin="miter"/>
<path d="M3942.4 1643.1 L3974.9 1658.9 L3983.8 1640.1 L3998.5 1648.0 L3982.8 1684.5 L3937.4 1655.9Z" fill="#a8a8a8"/>
<path d="M4168.0 1538.0 L4200.0 1538.0 L4200.0 1578.0 L4168.0 1578.0Z" fill="#d5d5d5"/>
<path d="M3466.0 1860.0 L3534.0 1860.0 L3530.0 1888.0 L3492.0 1888.0Z" fill="#a9a9a9"/>
<path d="M3298.0 2116.0 L3328.0 2124.0 L3316.0 2164.0 L3288.0 2156.0Z" fill="#a5a5a5"/>
<path d="M3276.0 2328.0 L3318.0 2342.0 L3312.0 2360.0 L3272.0 2346.0Z" fill="#b5b5b5"/>
<path d="M3760.0 2160.0 L3790.0 2160.0 L3790.0 2204.0 L3760.0 2204.0Z" fill="#a8a8a8"/>
<path d="M3774.0 2244.0 L3802.0 2244.0 L3802.0 2286.0 L3774.0 2286.0Z" fill="#a8a8a8"/>
<path d="M4322.0 2083.2 L4350.0 2083.2 L4350.0 2094.0 L4322.0 2094.0Z" fill="#a8a8a8"/>
<path d="M4428.0 2094.0 L4458.0 2094.0 L4458.0 2104.0 L4428.0 2104.0Z" fill="#a8a8a8"/>
<path d="M4394.0 2268.0 L4406.0 2268.0 L4406.0 2304.0 L4394.0 2304.0Z" fill="#a8a8a8"/>
<path d="M4336.0 2356.0 L4344.0 2356.0 L4344.0 2388.0 L4336.0 2388.0Z" fill="#bbb"/>
<path d="M3760.0 2578.0 L3776.0 2578.0 L3776.0 2648.0 L3760.0 2648.0Z" fill="#a0a0a0"/>
<path d="M3790.0 2604.0 L3814.0 2604.0 L3814.0 2712.0 L3790.0 2712.0Z" fill="#a0a0a0"/>
<path d="M3830.0 2694.0 L3848.0 2694.0 L3848.0 2714.0 L3830.0 2714.0Z" fill="#a0a0a0"/>
<path d="M3890.0 2588.0 L3908.0 2588.0 L3908.0 2646.0 L3890.0 2646.0Z" fill="#a0a0a0"/>
<path d="M3886.0 2662.0 L3902.0 2662.0 L3902.0 2720.0 L3886.0 2720.0Z" fill="#a0a0a0"/>
<path d="M3834.0 2570.0 L3858.0 2570.0 L3858.0 2678.0 L3834.0 2678.0Z" fill="#d8d8d8"/>
<path d="M3664.0 2626.0 L3680.0 2626.0 L3680.0 2710.0 L3664.0 2710.0Z" fill="#e0e0e0"/>
<path d="M3688.0 2630.0 L3700.0 2630.0 L3700.0 2718.0 L3688.0 2718.0Z" fill="#e0e0e0"/>
<path d="M4174.0 2502.0 L4278.0 2550.0 L4378.0 2590.0 L4478.0 2602.0 L4558.0 2600.0" fill="none" stroke="#a9a9a9" stroke-width="52.0" stroke-linecap="butt" stroke-linejoin="round"/>
<path d="M4436.0 2650.0 L4388.0 2650.0 L4388.0 2714.0 L4436.0 2714.0" fill="none" stroke="#a8a8a8" stroke-width="12.8" stroke-linecap="butt" stroke-linejoin="miter"/>
<path d="M4450.0 2688.0 L4472.0 2688.0 L4472.0 2722.0 L4450.0 2722.0Z" fill="#a0a0a0"/>
<path d="M4538.0 2706.0 L4552.0 2706.0 L4552.0 2730.0 L4538.0 2730.0Z" fill="#a8a8a8"/>
<path d="M3986.0 2838.0 L4016.0 2838.0 L4016.0 2858.0 L3986.0 2858.0Z" fill="#a8a8a8"/>
<path d="M3918.0 2590.0 L3938.0 2590.0 L3938.0 2646.0 L3918.0 2646.0Z" fill="#a8a8a8"/>
<path d="M3918.0 2666.0 L3928.0 2666.0 L3928.0 2722.0 L3918.0 2722.0Z" fill="#a8a8a8"/>
<path d="M3942.0 2510.0 L3962.0 2506.0 L3986.0 2530.0 L3974.0 2538.0Z" fill="#a8a8a8"/>
<path d="M2911.6 1913.0 L2944.2 1932.6 L2929.9 1960.0 L2897.2 1939.1Z" fill="#a8a8a8"/>
<path d="M2944.2 1859.4 L2988.7 1886.8 L2983.4 1898.6 L2939.0 1871.2Z" fill="#b0b0b0"/>
<path d="M2897.2 2128.6 L2912.9 2076.3 L2978.2 2102.4" fill="none" stroke="#a9a9a9" stroke-width="20.9" stroke-linecap="butt" stroke-linejoin="miter"/>
<path d="M2894.6 2100.0 L2886.8 2136.6 L2910.3 2141.8 L2918.1 2107.8 L2949.5 2107.8 L2948.2 2123.5 L2973.0 2128.7 L2979.5 2100.0Z" fill="#a9a9a9"/>
</g>
<g id="m-dark">
<path d="M3524.0 1966.0 L3534.0 1960.0 L3600.0 1976.0 L3680.0 1990.0 L3736.0 1996.0 L3696.0 1998.0 L3664.0 1998.0 L3664.0 2052.0 L3676.0 2084.0 L3672.0 2120.0 L3666.0 2140.0 L3666.0 2172.0 L3676.0 2184.0 L3716.0 2176.0 L3720.0 2200.0 L3740.0 2260.0 L3760.0 2320.0 L3780.0 2352.0 L3840.0 2400.0 L3836.0 2408.0 L3780.0 2460.0 L3760.0 2516.0 L3596.0 2516.0 L3576.0 2380.0 L3556.0 2220.0 L3536.0 2080.0Z" fill="#5b5b5b"/>
<path d="M3708.0 2346.0 L3720.0 2340.0 L3732.0 2352.0 L3740.0 2392.0 L3744.0 2448.0 L3732.0 2460.0 L3688.0 2456.0 L3676.0 2440.0 L3680.0 2412.0 L3696.0 2372.0Z" fill="#d9d9d9"/>
<path d="M3000.0 2154.0 L3064.0 2164.0 L3052.0 2220.0 L3016.0 2208.0 L3000.0 2228.0Z" fill="#5b5b5b"/>
<path d="M3604.0 2506.0 L3744.0 2506.0 L3712.0 2534.0 L3680.0 2528.0 L3612.0 2528.0Z" fill="#5b5b5b"/>
<path d="M2881.5 2145.7 L2918.1 2139.2 L3063.1 2165.3 L3048.8 2220.2 L3018.7 2208.4 L2983.4 2289.5 L2967.8 2290.8 L2927.3 2263.3 L2936.4 2242.4 L2861.9 2205.8Z" fill="#5b5b5b"/>
</g>
<g id="m-black">
<path d="M3424.0 694.0 L3404.0 684.8 L3380.0 734.8 L3414.0 754.0" fill="none" stroke="#000" stroke-width="13.9" stroke-linecap="butt" stroke-linejoin="miter"/>
<path d="M3476.8 747.2 L3462.0 784.8 L3428.8 770.0" fill="none" stroke="#000" stroke-width="13.9" stroke-linecap="butt" stroke-linejoin="miter"/>
<path d="M3500.0 708.8 L3486.0 735.2" fill="none" stroke="#000" stroke-width="13.2" stroke-linecap="butt" stroke-linejoin="miter"/>
<path d="M3538.0 736.0 L3526.0 760.0" fill="none" stroke="#000" stroke-width="13.2" stroke-linecap="butt" stroke-linejoin="miter"/>
<path d="M3616.0 728.0 L3603.2 754.0" fill="none" stroke="#000" stroke-width="13.2" stroke-linecap="butt" stroke-linejoin="miter"/>
<path d="M3656.0 755.2 L3643.2 780.8" fill="none" stroke="#000" stroke-width="13.2" stroke-linecap="butt" stroke-linejoin="miter"/>
<path d="M3707.2 771.2 L3731.2 786.0" fill="none" stroke="#000" stroke-width="13.2" stroke-linecap="butt" stroke-linejoin="miter"/>
<path d="M3622.0 786.0 L3598.0 838.0 L3650.0 870.0" fill="none" stroke="#000" stroke-width="20.2" stroke-linecap="butt" stroke-linejoin="miter"/>
<path d="M3704.0 820.0 L3690.0 854.0" fill="none" stroke="#000" stroke-width="12.5" stroke-linecap="butt" stroke-linejoin="miter"/>
<path d="M3676.0 866.0 L3662.0 892.0" fill="none" stroke="#000" stroke-width="13.2" stroke-linecap="butt" stroke-linejoin="miter"/>
<path d="M3576.0 876.0 L3564.8 902.0" fill="none" stroke="#000" stroke-width="13.2" stroke-linecap="butt" stroke-linejoin="miter"/>
<path d="M3595.2 884.8 L3632.0 907.2 L3608.0 966.0" fill="none" stroke="#000" stroke-width="12.5" stroke-linecap="butt" stroke-linejoin="miter"/>
<path d="M3544.8 934.0 L3528.8 966.0 L3594.0 1000.0" fill="none" stroke="#000" stroke-width="13.2" stroke-linecap="butt" stroke-linejoin="miter"/>
<path d="M3274.0 964.8 L3256.0 956.0 L3226.0 1016.0 L3308.0 1068.8" fill="none" stroke="#000" stroke-width="13.9" stroke-linecap="butt" stroke-linejoin="miter"/>
<path d="M3294.0 978.0 L3343.2 1003.2 L3322.0 1042.0" fill="none" stroke="#000" stroke-width="12.5" stroke-linecap="butt" stroke-linejoin="miter"/>
<path d="M3192.0 1116.0 L3175.2 1107.2 L3140.8 1167.2 L3216.0 1210.0" fill="none" stroke="#000" stroke-width="13.9" stroke-linecap="butt" stroke-linejoin="miter"/>
<path d="M3210.0 1131.2 L3256.0 1159.2 L3238.0 1196.0" fill="none" stroke="#000" stroke-width="12.5" stroke-linecap="butt" stroke-linejoin="miter"/>
<path d="M3468.0 1118.0 L3496.0 1060.8 L3534.0 1082.0" fill="none" stroke="#000" stroke-width="12.5" stroke-linecap="butt" stroke-linejoin="miter"/>
<path d="M3556.0 1096.0 L3544.0 1120.0" fill="none" stroke="#000" stroke-width="11.1" stroke-linecap="butt" stroke-linejoin="miter"/>
<path d="M3488.0 1127.2 L3530.0 1152.0" fill="none" stroke="#000" stroke-width="11.8" stroke-linecap="butt" stroke-linejoin="miter"/>
<path d="M3622.0 1159.2 L3596.8 1143.2 L3631.2 1080.8 L3711.2 1136.8 L3680.0 1196.8 L3650.0 1180.8" fill="none" stroke="#000" stroke-width="13.2" stroke-linecap="butt" stroke-linejoin="miter"/>
<path d="M3746.0 1162.0 L3768.0 1178.0" fill="none" stroke="#000" stroke-width="13.2" stroke-linecap="butt" stroke-linejoin="miter"/>
<path d="M3736.0 1192.0 L3726.0 1212.0" fill="none" stroke="#000" stroke-width="11.8" stroke-linecap="butt" stroke-linejoin="miter"/>
<path d="M4334.0 816.0 L4348.0 804.0 L4358.0 779.2 L4446.8 794.0 L4445.2 824.8 L4398.0 894.0" fill="none" stroke="#000" stroke-width="9.7" stroke-linecap="butt" stroke-linejoin="miter"/>
<path d="M4321.2 833.2 L4362.8 863.2" fill="none" stroke="#000" stroke-width="11.1" stroke-linecap="butt" stroke-linejoin="miter"/>
<path d="M4312.0 859.2 L4300.0 878.0" fill="none" stroke="#000" stroke-width="13.9" stroke-linecap="butt" stroke-linejoin="miter"/>
<path d="M4301.2 876.0 L4269.2 927.2" fill="none" stroke="#000" stroke-width="7.7" stroke-linecap="butt" stroke-linejoin="miter"/>
<path d="M3112.0 1304.0 L3078.0 1282.0 L3043.2 1340.0 L3076.0 1362.0" fill="none" stroke="#000" stroke-width="14.6" stroke-linecap="butt" stroke-linejoin="miter"/>
<path d="M3106.0 1384.0 L3142.0 1406.0" fill="none" stroke="#000" stroke-width="12.5" stroke-linecap="butt" stroke-linejoin="miter"/>
<path d="M3008.0 1390.8 L3034.0 1405.2" fill="none" stroke="#000" stroke-width="13.9" stroke-linecap="butt" stroke-linejoin="miter"/>
<path d="M3052.0 1416.0 L3098.0 1446.0 L3071.2 1500.0 L3000.0 1460.0" fill="none" stroke="#000" stroke-width="13.2" stroke-linecap="butt" stroke-linejoin="miter"/>
<path d="M3242.0 1454.8 L3183.2 1421.2 L3154.0 1485.2 L3184.8 1504.0" fill="none" stroke="#000" stroke-width="12.5" stroke-linecap="butt" stroke-linejoin="miter"/>
<path d="M3140.0 1530.0 L3126.0 1522.8 L3098.0 1586.8 L3124.8 1604.0" fill="none" stroke="#000" stroke-width="13.2" stroke-linecap="butt" stroke-linejoin="miter"/>
<path d="M3166.0 1546.0 L3216.0 1574.8 L3186.0 1634.8 L3152.0 1616.0" fill="none" stroke="#000" stroke-width="13.2" stroke-linecap="butt" stroke-linejoin="miter"/>
<path d="M3476.0 1368.0 L3467.2 1362.8 L3436.8 1428.0 L3498.0 1462.0" fill="none" stroke="#000" stroke-width="13.2" stroke-linecap="butt" stroke-linejoin="miter"/>
<path d="M3494.0 1380.0 L3554.0 1414.8 L3518.0 1486.0" fill="none" stroke="#000" stroke-width="12.5" stroke-linecap="butt" stroke-linejoin="miter"/>
<path d="M3634.0 1370.0 L3658.0 1382.0 L3636.0 1426.0 L3612.0 1414.0Z" fill="#000"/>
<path d="M3675.2 1294.0 L3659.2 1325.2 L3680.0 1338.0" fill="none" stroke="#000" stroke-width="12.5" stroke-linecap="butt" stroke-linejoin="miter"/>
<path d="M3690.0 1266.0 L3710.0 1278.0" fill="none" stroke="#000" stroke-width="15.7" stroke-linecap="butt" stroke-linejoin="miter"/>
<path d="M3720.0 1210.0 L3714.0 1226.0 L3734.0 1236.0" fill="none" stroke="#000" stroke-width="11.8" stroke-linecap="butt" stroke-linejoin="miter"/>
<path d="M3600.0 1212.0 L3624.0 1224.0" fill="none" stroke="#000" stroke-width="12.5" stroke-linecap="butt" stroke-linejoin="miter"/>
<path d="M3599.2 1462.8 L3604.8 1450.8 L3622.0 1461.2" fill="none" stroke="#000" stroke-width="8.4" stroke-linecap="butt" stroke-linejoin="miter"/>
<path d="M3584.8 1482.8 L3568.0 1516.0 L3588.8 1528.0" fill="none" stroke="#000" stroke-width="11.8" stroke-linecap="butt" stroke-linejoin="miter"/>
<path d="M3415.2 1462.8 L3382.0 1528.0 L3430.0 1561.2" fill="none" stroke="#000" stroke-width="12.5" stroke-linecap="butt" stroke-linejoin="miter"/>
<path d="M3440.0 1482.0 L3499.2 1522.0" fill="none" stroke="#000" stroke-width="11.1" stroke-linecap="butt" stroke-linejoin="miter"/>
<path d="M3362.0 1576.0 L3352.0 1571.2 L3344.8 1586.8 L3408.0 1622.0" fill="none" stroke="#000" stroke-width="16.0" stroke-linecap="butt" stroke-linejoin="miter"/>
<path d="M3416.0 1630.8 L3446.0 1649.2 L3455.2 1630.0" fill="none" stroke="#000" stroke-width="13.9" stroke-linecap="butt" stroke-linejoin="miter"/>
<path d="M3098.0 1786.0 L3086.0 1810.0" fill="none" stroke="#000" stroke-width="11.8" stroke-linecap="butt" stroke-linejoin="miter"/>
<path d="M3072.0 1836.0 L3060.0 1858.0" fill="none" stroke="#000" stroke-width="12.5" stroke-linecap="butt" stroke-linejoin="miter"/>
<path d="M4090.0 1220.0 L4044.0 1306.0" fill="none" stroke="#000" stroke-width="13.9" stroke-linecap="butt" stroke-linejoin="miter"/>
<path d="M4078.0 1213.2 L4101.2 1225.2 L4096.0 1234.0 L4073.2 1222.0Z" fill="#000"/>
<path d="M4173.2 1290.0 L4145.2 1337.2" fill="none" stroke="#000" stroke-width="4.9" stroke-linecap="butt" stroke-linejoin="miter"/>
<path d="M4256.0 1230.8 L4272.0 1237.2 L4261.2 1257.2" fill="none" stroke="#000" stroke-width="12.5" stroke-linecap="butt" stroke-linejoin="miter"/>
<path d="M4234.0 1270.0 L4222.0 1304.0" fill="none" stroke="#000" stroke-width="11.8" stroke-linecap="butt" stroke-linejoin="miter"/>
<path d="M4290.0 1248.0 L4332.0 1276.0 L4292.0 1348.0 L4240.0 1312.0" fill="none" stroke="#000" stroke-width="16.0" stroke-linecap="butt" stroke-linejoin="miter"/>
<path d="M3960.1 1424.9 L3935.5 1461.8" fill="none" stroke="#000" stroke-width="12.3" stroke-linecap="butt" stroke-linejoin="miter"/>
<path d="M3956.2 1417.8 L3968.0 1424.3 L3962.1 1434.2 L3950.3 1427.7Z" fill="#000"/>
<path d="M3986.7 1447.0 L4018.2 1469.7 L3996.6 1508.1 L3988.7 1503.2" fill="none" stroke="#000" stroke-width="12.0" stroke-linecap="butt" stroke-linejoin="miter"/>
<path d="M3934.5 1485.4 L3922.7 1478.5 L3900.0 1516.0" fill="none" stroke="#000" stroke-width="12.0" stroke-linecap="butt" stroke-linejoin="miter"/>
<path d="M3970.0 1526.8 L3963.1 1523.9 L3934.5 1579.0" fill="none" stroke="#000" stroke-width="12.0" stroke-linecap="butt" stroke-linejoin="miter"/>
<path d="M4044.8 1489.4 L4082.3 1516.0 L4045.8 1579.0 L4002.5 1541.6" fill="none" stroke="#000" stroke-width="12.0" stroke-linecap="butt" stroke-linejoin="miter"/>
<path d="M3929.6 1609.6 L3923.6 1606.6 L3902.0 1653.9" fill="none" stroke="#000" stroke-width="12.0" stroke-linecap="butt" stroke-linejoin="miter"/>
<path d="M3040.0 1866.0 L3056.0 1874.0 L3046.0 1898.0 L3030.0 1890.0Z" fill="#000"/>
<path d="M3216.0 1860.0 L3204.0 1882.0" fill="none" stroke="#000" stroke-width="13.9" stroke-linecap="butt" stroke-linejoin="miter"/>
<path d="M3274.0 1860.0 L3258.0 1884.8 L3314.0 1920.0" fill="none" stroke="#000" stroke-width="13.9" stroke-linecap="butt" stroke-linejoin="miter"/>
<path d="M3347.2 1860.0 L3328.0 1900.0" fill="none" stroke="#000" stroke-width="12.5" stroke-linecap="butt" stroke-linejoin="miter"/>
<path d="M3382.0 1896.0 L3426.0 1923.2 L3410.0 1954.0" fill="none" stroke="#000" stroke-width="13.2" stroke-linecap="butt" stroke-linejoin="miter"/>
<path d="M3468.0 1952.8 L3496.0 1970.0 L3502.0 2020.0 L3442.0 2034.0" fill="none" stroke="#000" stroke-width="12.5" stroke-linecap="butt" stroke-linejoin="miter"/>
<path d="M3394.0 1998.0 L3390.0 2020.0 L3398.0 2040.0 L3374.0 2048.0" fill="none" stroke="#000" stroke-width="11.8" stroke-linecap="butt" stroke-linejoin="miter"/>
<path d="M3228.8 1951.2 L3264.0 1964.8" fill="none" stroke="#000" stroke-width="11.8" stroke-linecap="butt" stroke-linejoin="miter"/>
<path d="M3292.8 1971.2 L3275.2 2035.2 L3252.8 2028.8" fill="none" stroke="#000" stroke-width="12.5" stroke-linecap="butt" stroke-linejoin="miter"/>
<path d="M3227.2 1987.2 L3219.2 2019.2" fill="none" stroke="#000" stroke-width="9.7" stroke-linecap="butt" stroke-linejoin="miter"/>
<path d="M3340.0 1988.0 L3326.0 2024.0 L3332.0 2058.0" fill="none" stroke="#000" stroke-width="12.5" stroke-linecap="butt" stroke-linejoin="miter"/>
<path d="M3130.0 2032.8 L3095.2 2020.8 L3080.0 2088.0" fill="none" stroke="#000" stroke-width="13.2" stroke-linecap="butt" stroke-linejoin="miter"/>
<path d="M3160.0 2038.0 L3151.2 2082.0" fill="none" stroke="#000" stroke-width="11.8" stroke-linecap="butt" stroke-linejoin="miter"/>
<path d="M3103.2 2091.2 L3144.8 2106.0" fill="none" stroke="#000" stroke-width="13.2" stroke-linecap="butt" stroke-linejoin="miter"/>
<path d="M3200.0 2054.0 L3191.2 2095.2" fill="none" stroke="#000" stroke-width="11.8" stroke-linecap="butt" stroke-linejoin="miter"/>
<path d="M3224.8 2068.8 L3262.0 2080.8 L3243.2 2142.0 L3180.0 2119.2" fill="none" stroke="#000" stroke-width="13.2" stroke-linecap="butt" stroke-linejoin="miter"/>
<path d="M3042.0 2018.0 L3030.0 2064.0 L3000.0 2054.0" fill="none" stroke="#000" stroke-width="13.2" stroke-linecap="butt" stroke-linejoin="miter"/>
<path d="M3034.0 1974.0 L3056.0 1984.0 L3048.0 1998.0 L3030.0 1988.0Z" fill="#000"/>
<path d="M3424.0 2084.0 L3390.0 2092.0 L3380.0 2126.0" fill="none" stroke="#000" stroke-width="11.8" stroke-linecap="butt" stroke-linejoin="miter"/>
<path d="M3452.0 2076.0 L3508.0 2068.0 L3520.0 2144.0 L3466.0 2154.0" fill="none" stroke="#000" stroke-width="13.2" stroke-linecap="butt" stroke-linejoin="miter"/>
<path d="M3472.0 2198.0 L3526.0 2188.0 L3538.0 2260.0 L3484.0 2272.0" fill="none" stroke="#000" stroke-width="13.2" stroke-linecap="butt" stroke-linejoin="miter"/>
<path d="M3496.0 2318.0 L3510.0 2314.0 L3514.0 2340.0 L3500.0 2344.0Z" fill="#000"/>
<path d="M3094.0 2172.0 L3098.0 2151.2 L3138.0 2164.8" fill="none" stroke="#000" stroke-width="13.2" stroke-linecap="butt" stroke-linejoin="miter"/>
<path d="M3160.0 2174.0 L3226.0 2204.0 L3216.0 2230.0" fill="none" stroke="#000" stroke-width="13.2" stroke-linecap="butt" stroke-linejoin="miter"/>
<path d="M3122.0 2202.0 L3107.2 2258.0" fill="none" stroke="#000" stroke-width="13.2" stroke-linecap="butt" stroke-linejoin="miter"/>
<path d="M3140.0 2264.0 L3198.0 2286.0 L3208.0 2254.0" fill="none" stroke="#000" stroke-width="13.2" stroke-linecap="butt" stroke-linejoin="miter"/>
<path d="M3316.0 2244.0 L3270.0 2230.0 L3262.0 2290.0" fill="none" stroke="#000" stroke-width="13.2" stroke-linecap="butt" stroke-linejoin="miter"/>
<path d="M3342.0 2246.0 L3330.0 2304.0 L3318.0 2302.0" fill="none" stroke="#000" stroke-width="12.5" stroke-linecap="butt" stroke-linejoin="miter"/>
<path d="M3395.2 2384.0 L3352.8 2375.2 L3340.0 2424.8 L3396.0 2456.0 L3420.8 2411.2" fill="none" stroke="#000" stroke-width="13.9" stroke-linecap="butt" stroke-linejoin="miter"/>
<path d="M3218.0 2404.0 L3198.0 2440.0 L3262.0 2478.0 L3278.0 2440.0" fill="none" stroke="#000" stroke-width="13.9" stroke-linecap="butt" stroke-linejoin="miter"/>
<path d="M3318.0 2462.0 L3300.0 2500.0 L3320.0 2512.0" fill="none" stroke="#000" stroke-width="13.2" stroke-linecap="butt" stroke-linejoin="miter"/>
<path d="M3438.0 2462.0 L3452.0 2468.0 L3440.0 2496.0 L3427.2 2490.0Z" fill="#000"/>
<path d="M3366.0 2496.0 L3380.0 2500.0 L3376.0 2512.0 L3360.0 2512.0Z" fill="#000"/>
<path d="M3770.0 2064.0 L3764.0 2014.0 L3828.0 2004.0 L3836.0 2052.0" fill="none" stroke="#000" stroke-width="13.2" stroke-linecap="butt" stroke-linejoin="miter"/>
<path d="M3690.0 2136.0 L3704.0 2134.0 L3708.0 2166.0 L3695.2 2168.0Z" fill="#000"/>
<path d="M3877.7 2042.2 L3870.3 1997.9 L3940.5 1983.1 L3946.8 2029.3" fill="none" stroke="#000" stroke-width="12.9" stroke-linecap="butt" stroke-linejoin="miter"/>
<path d="M3975.6 1972.0 L4010.7 1966.5 L4015.5 1999.8 L3980.0 2005.3Z" fill="#000"/>
<path d="M3971.9 2088.4 L4005.2 2114.3 L3964.5 2173.4 L3933.1 2151.2" fill="none" stroke="#000" stroke-width="12.9" stroke-linecap="butt" stroke-linejoin="miter"/>
<path d="M3911.0 2190.0 L3941.6 2211.1 L3905.4 2273.2 L3872.2 2245.4" fill="none" stroke="#000" stroke-width="12.9" stroke-linecap="butt" stroke-linejoin="miter"/>
<path d="M3955.3 2263.9 L3968.2 2271.3 L3953.4 2297.2 L3941.6 2289.8Z" fill="#000"/>
<path d="M4001.5 2299.0 L4014.4 2306.4 L3997.8 2330.4 L3986.7 2323.0Z" fill="#000"/>
<path d="M3970.1 2373.6 L3918.4 2338.5 L3877.7 2402.5 L3925.7 2438.7 L3946.8 2405.4" fill="none" stroke="#000" stroke-width="12.9" stroke-linecap="butt" stroke-linejoin="miter"/>
<path d="M3970.1 2433.9 L3992.2 2393.2 L4042.1 2424.6 L4005.2 2491.1 L3949.8 2457.9" fill="none" stroke="#000" stroke-width="12.9" stroke-linecap="butt" stroke-linejoin="miter"/>
<path d="M4246.0 2044.0 L4264.0 2044.0 L4264.0 2078.0 L4292.0 2078.0 L4292.0 2106.0 L4260.0 2106.0 L4260.0 2080.0 L4246.0 2080.0Z" fill="#000"/>
<path d="M4534.0 2058.8 L4534.0 2098.0 L4480.0 2098.0" fill="none" stroke="#000" stroke-width="10.4" stroke-linecap="butt" stroke-linejoin="miter"/>
<path d="M4332.0 2276.8 L4332.0 2258.0 L4254.8 2258.0 L4254.8 2314.0 L4272.0 2314.0" fill="none" stroke="#000" stroke-width="11.1" stroke-linecap="butt" stroke-linejoin="miter"/>
<path d="M4298.0 2313.2 L4338.8 2313.2" fill="none" stroke="#000" stroke-width="11.1" stroke-linecap="butt" stroke-linejoin="miter"/>
<path d="M4254.8 2356.0 L4254.8 2404.0" fill="none" stroke="#000" stroke-width="9.0" stroke-linecap="butt" stroke-linejoin="miter"/>
<path d="M4274.0 2442.8 L4257.2 2442.8 L4257.2 2484.0 L4286.0 2500.0 L4332.0 2500.0 L4332.0 2464.0" fill="none" stroke="#000" stroke-width="10.4" stroke-linecap="butt" stroke-linejoin="miter"/>
<path d="M4298.0 2442.8 L4338.0 2442.8" fill="none" stroke="#000" stroke-width="10.4" stroke-linecap="butt" stroke-linejoin="miter"/>
<path d="M3320.0 2510.0 L3362.0 2532.0 L3374.0 2510.0" fill="none" stroke="#000" stroke-width="13.2" stroke-linecap="butt" stroke-linejoin="miter"/>
<path d="M3416.0 2520.0 L3394.0 2556.0 L3456.0 2594.0 L3474.0 2554.0" fill="none" stroke="#000" stroke-width="13.2" stroke-linecap="butt" stroke-linejoin="miter"/>
<path d="M4112.0 2550.0 L4126.0 2558.0 L4110.0 2586.0 L4098.0 2578.0Z" fill="#000"/>
<path d="M4174.0 2546.0 L4208.0 2574.0 L4174.0 2626.0 L4140.0 2602.0" fill="none" stroke="#000" stroke-width="13.2" stroke-linecap="butt" stroke-linejoin="miter"/>
<path d="M4226.0 2638.0 L4218.0 2654.0 L4268.0 2678.0" fill="none" stroke="#000" stroke-width="11.1" stroke-linecap="butt" stroke-linejoin="miter"/>
<path d="M4296.0 2510.0 L4342.0 2510.0" fill="none" stroke="#000" stroke-width="3.5" stroke-linecap="butt" stroke-linejoin="miter"/>
<path d="M2841.0 1713.1 L2805.7 1782.3" fill="none" stroke="#000" stroke-width="13.2" stroke-linecap="butt" stroke-linejoin="miter"/>
<path d="M2863.2 1732.7 L2941.6 1781.0 L2903.7 1846.3 L2856.7 1809.8" fill="none" stroke="#000" stroke-width="12.5" stroke-linecap="butt" stroke-linejoin="miter"/>
<path d="M2786.1 1829.4 L2777.0 1824.1 L2743.0 1884.2 L2791.4 1915.6" fill="none" stroke="#000" stroke-width="12.5" stroke-linecap="butt" stroke-linejoin="miter"/>
<path d="M2799.2 1839.8 L2820.1 1856.8" fill="none" stroke="#000" stroke-width="11.4" stroke-linecap="butt" stroke-linejoin="miter"/>
<path d="M2856.7 1880.3 L2878.9 1893.4 L2872.4 1903.8" fill="none" stroke="#000" stroke-width="10.2" stroke-linecap="butt" stroke-linejoin="miter"/>
<path d="M2858.0 1924.7 L2826.7 1986.1 L2786.1 1960.0" fill="none" stroke="#000" stroke-width="11.4" stroke-linecap="butt" stroke-linejoin="miter"/>
<path d="M2780.9 1937.8 L2794.0 1945.6 L2782.2 1969.2 L2769.2 1961.3Z" fill="#000"/>
<path d="M2871.1 1980.9 L2886.8 1988.8 L2876.3 2012.3 L2863.2 2004.4Z" fill="#000"/>
<path d="M2762.6 2016.2 L2692.1 1980.9 L2658.1 2048.9" fill="none" stroke="#000" stroke-width="12.5" stroke-linecap="butt" stroke-linejoin="miter"/>
<path d="M2796.6 2028.0 L2784.8 2064.5" fill="none" stroke="#000" stroke-width="10.2" stroke-linecap="butt" stroke-linejoin="miter"/>
<path d="M2799.2 2033.2 L2854.1 2058.0 L2826.7 2126.0" fill="none" stroke="#000" stroke-width="12.5" stroke-linecap="butt" stroke-linejoin="miter"/>
<path d="M2773.1 2098.5 L2761.3 2126.0" fill="none" stroke="#000" stroke-width="10.2" stroke-linecap="butt" stroke-linejoin="miter"/>
<path d="M3064.5 1822.8 L3078.8 1830.7 L3067.1 1854.2 L3054.0 1846.3Z" fill="#000"/>
<path d="M3040.9 1867.2 L3055.3 1875.1 L3043.5 1897.3 L3030.5 1889.5Z" fill="#000"/>
<path d="M2773.1 2089.5 L2752.2 2152.3" fill="none" stroke="#000" stroke-width="12.5" stroke-linecap="butt" stroke-linejoin="miter"/>
<path d="M2841.0 2089.5 L2821.4 2151.0" fill="none" stroke="#000" stroke-width="12.5" stroke-linecap="butt" stroke-linejoin="miter"/>
<path d="M2778.3 2156.2 L2814.9 2175.8" fill="none" stroke="#000" stroke-width="11.4" stroke-linecap="butt" stroke-linejoin="miter"/>
</g>
<g id="m-ring">
<circle cx="3380.8" cy="624" r="43.5" fill="none" stroke="#7d7d7d" stroke-width="4.5"/>
<circle cx="4338.8" cy="730" r="43.5" fill="none" stroke="#7d7d7d" stroke-width="4.5"/>
<circle cx="4673.2" cy="791.2" r="43.5" fill="none" stroke="#7d7d7d" stroke-width="4.5"/>
<circle cx="4574" cy="1840" r="43.5" fill="none" stroke="#7d7d7d" stroke-width="4.5"/>
<circle cx="4532" cy="2936" r="43.5" fill="none" stroke="#7d7d7d" stroke-width="4.5"/>
<circle cx="2568" cy="2153.6" r="43.5" fill="none" stroke="#7d7d7d" stroke-width="4.5"/>
<circle cx="2883" cy="1527" r="43.5" fill="none" stroke="#7d7d7d" stroke-width="4.5"/>
<circle cx="4484" cy="1112" r="27" fill="#d9d9d9"/><text x="4484" y="1122" font-size="31" font-weight="bold" text-anchor="middle" textLength="31" lengthAdjust="spacingAndGlyphs" fill="#8f8f8f">M</text>
<circle cx="4174" cy="1808" r="27" fill="#d9d9d9"/><text x="4174" y="1818" font-size="31" font-weight="bold" text-anchor="middle" textLength="31" lengthAdjust="spacingAndGlyphs" fill="#8f8f8f">M</text>
<circle cx="4140" cy="1842" r="27" fill="#d9d9d9"/><text x="4140" y="1852" font-size="31" font-weight="bold" text-anchor="middle" textLength="31" lengthAdjust="spacingAndGlyphs" fill="#8f8f8f">M</text>
<circle cx="4618" cy="2928" r="27" fill="#d9d9d9"/><text x="4618" y="2938" font-size="31" font-weight="bold" text-anchor="middle" textLength="31" lengthAdjust="spacingAndGlyphs" fill="#8f8f8f">M</text>
</g>
<g id="m-dot">
<circle cx="3326" cy="986" r="74" fill="#ff3030" fill-opacity=".28"/><circle cx="3326" cy="986" r="54" fill="#ff3030" fill-opacity=".28"/><circle cx="3326" cy="986" r="33" fill="#ff3030" fill-opacity=".55"/>
<circle cx="3758.8" cy="832" r="74" fill="#ff3030" fill-opacity=".28"/><circle cx="3758.8" cy="832" r="54" fill="#ff3030" fill-opacity=".28"/><circle cx="3758.8" cy="832" r="33" fill="#ff3030" fill-opacity=".55"/>
<circle cx="4378" cy="866" r="74" fill="#ff3030" fill-opacity=".28"/><circle cx="4378" cy="866" r="54" fill="#ff3030" fill-opacity=".28"/><circle cx="4378" cy="866" r="33" fill="#ff3030" fill-opacity=".55"/>
<circle cx="3478" cy="1404" r="74" fill="#ff3030" fill-opacity=".28"/><circle cx="3478" cy="1404" r="54" fill="#ff3030" fill-opacity=".28"/><circle cx="3478" cy="1404" r="33" fill="#ff3030" fill-opacity=".55"/>
<circle cx="3172.8" cy="1582.8" r="74" fill="#ff3030" fill-opacity=".28"/><circle cx="3172.8" cy="1582.8" r="54" fill="#ff3030" fill-opacity=".28"/><circle cx="3172.8" cy="1582.8" r="33" fill="#ff3030" fill-opacity=".55"/>
<circle cx="2903.7" cy="1817.6" r="74" fill="#ff3030" fill-opacity=".28"/><circle cx="2903.7" cy="1817.6" r="54" fill="#ff3030" fill-opacity=".28"/><circle cx="2903.7" cy="1817.6" r="33" fill="#ff3030" fill-opacity=".55"/>
<circle cx="3437" cy="1989" r="74" fill="#ff3030" fill-opacity=".28"/><circle cx="3437" cy="1989" r="54" fill="#ff3030" fill-opacity=".28"/><circle cx="3437" cy="1989" r="33" fill="#ff3030" fill-opacity=".55"/>
<circle cx="3957" cy="1508" r="74" fill="#ff3030" fill-opacity=".28"/><circle cx="3957" cy="1508" r="54" fill="#ff3030" fill-opacity=".28"/><circle cx="3957" cy="1508" r="33" fill="#ff3030" fill-opacity=".55"/>
<circle cx="3360.8" cy="2387" r="74" fill="#ff3030" fill-opacity=".28"/><circle cx="3360.8" cy="2387" r="54" fill="#ff3030" fill-opacity=".28"/><circle cx="3360.8" cy="2387" r="33" fill="#ff3030" fill-opacity=".55"/>
<circle cx="3958" cy="2158" r="74" fill="#ff3030" fill-opacity=".28"/><circle cx="3958" cy="2158" r="54" fill="#ff3030" fill-opacity=".28"/><circle cx="3958" cy="2158" r="33" fill="#ff3030" fill-opacity=".55"/>
<circle cx="4304.8" cy="2310" r="74" fill="#ff3030" fill-opacity=".28"/><circle cx="4304.8" cy="2310" r="54" fill="#ff3030" fill-opacity=".28"/><circle cx="4304.8" cy="2310" r="33" fill="#ff3030" fill-opacity=".55"/>
<circle cx="4152" cy="2584" r="74" fill="#ff3030" fill-opacity=".28"/><circle cx="4152" cy="2584" r="54" fill="#ff3030" fill-opacity=".28"/><circle cx="4152" cy="2584" r="33" fill="#ff3030" fill-opacity=".55"/>
</g>
<g id="m-circle">
<circle cx="3330" cy="971.5" r="232.5" fill="none" stroke="#f40000" stroke-width="2.2"/>
<circle cx="3762.5" cy="826.5" r="232.5" fill="none" stroke="#f40000" stroke-width="2.2"/>
<circle cx="4385.4" cy="865" r="232.5" fill="none" stroke="#f40000" stroke-width="2.2"/>
<circle cx="3505.2" cy="1374" r="232.5" fill="none" stroke="#f40000" stroke-width="2.2"/>
<circle cx="3168" cy="1563" r="232.5" fill="none" stroke="#f40000" stroke-width="2.2"/>
<circle cx="2903.5" cy="1819" r="232.5" fill="none" stroke="#f40000" stroke-width="2.2"/>
<circle cx="3438" cy="1984" r="232.5" fill="none" stroke="#f40000" stroke-width="2.2"/>
<circle cx="3991" cy="1507" r="232.5" fill="none" stroke="#f40000" stroke-width="2.2"/>
<circle cx="3336" cy="2368" r="232.5" fill="none" stroke="#f40000" stroke-width="2.2"/>
<circle cx="3949" cy="2145" r="232.5" fill="none" stroke="#f40000" stroke-width="2.2"/>
<circle cx="4310.6" cy="2229" r="232.5" fill="none" stroke="#f40000" stroke-width="2.2"/>
<circle cx="4153.6" cy="2615.5" r="232.5" fill="none" stroke="#f40000" stroke-width="2.2"/>
</g>
<g id="m-top">
</g>
<rect x="2513" y="362" width="2291" height="70" fill="url(#fadeT)"/>
</g></g>
<g id="title">
<text x="104.0" y="145.0" font-size="105.0" font-weight="bold" textLength="1037.6" lengthAdjust="spacingAndGlyphs" stroke="#000" stroke-width="4" stroke-linejoin="round">КОМЬЮНИТИ ЦЕНТР</text>
</g>
<g id="body">
<text x="157.0" y="408.8" font-size="47.0" textLength="2260.0" lengthAdjust="spacingAndGlyphs" stroke="#000" stroke-width="0.8" stroke-linejoin="round">МЫ ПРЕДЛАГАЕМ ЖИТЕЛЯМ ПОСЛЕ ПЕРЕЕЗДА В НОВЫЙ ДОМ, ВЫБРАТЬ ДЛЯ СЕБЯ ОДНУ ИЗ 5 ФУНКЦИЙ:</text>
<text x="156.5" y="535.0" font-size="45.5" textLength="535.0" lengthAdjust="spacingAndGlyphs" stroke="#fff" stroke-width="0.7">КУЛЬТУРНО-ДОСУГОВАЯ</text>
<text x="156.5" y="603.0" font-size="45.5" textLength="305.0" lengthAdjust="spacingAndGlyphs" stroke="#fff" stroke-width="0.7">СПОРТИВНАЯ</text>
<text x="156.5" y="670.5" font-size="45.5" textLength="477.0" lengthAdjust="spacingAndGlyphs" stroke="#fff" stroke-width="0.7">ДЕТСКАЯ-ДОСУГОВАЯ</text>
<text x="156.5" y="738.5" font-size="45.5" textLength="1260.0" lengthAdjust="spacingAndGlyphs" stroke="#fff" stroke-width="0.7">ЦЕНТР ЗАНЯТОСТИ И ДОСУГА ЛИЦ ПОЖИЛОГО ВОЗРАСТА</text>
<text x="156.5" y="806.0" font-size="45.5" textLength="733.0" lengthAdjust="spacingAndGlyphs" stroke="#fff" stroke-width="0.7">БИБЛИОТЕЧНО-КОВОРКИНГОВАЯ</text>
<text x="157.0" y="923.8" font-size="47.0" textLength="2544.0" lengthAdjust="spacingAndGlyphs" stroke="#000" stroke-width="0.8" stroke-linejoin="round">В РЕЗУЛЬТАТЕ АНКЕТИРОВАНИЯ И РАСПРЕДЕЛЕНИЯ ФУНКЦИЙ ПО УРБАНБЛОКАМ, ПОЛУЧИТСЯ ПОЛНОЦЕННАЯ СЕТЬ</text>
<text x="157.5" y="981.5" font-size="47.0" textLength="2674.5" lengthAdjust="spacingAndGlyphs" stroke="#000" stroke-width="0.8" stroke-linejoin="round">ОБЩЕСТВЕННО-ДОСУГОВЫХ ЦЕНТРОВ РАЗНОГО НАПРАВЛЕНИЯ НАХОДЯЩАЯСЯ В 5 МИНУТНОМ РАДИУСЕ ДОСТУПНОСТИ</text>
</g>
<g id="oldhouse" fill="none" stroke="#000">
<rect x="343.6" y="1477.4" width="261" height="301.2" stroke-width="6.8" stroke-linejoin="round"/>
<rect x="369.1" y="1512.5" width="30.6" height="34.3" stroke-width="3.4"/>
<rect x="369.1" y="1561.3" width="30.6" height="34.3" stroke-width="3.4"/>
<rect x="369.1" y="1609.7" width="30.6" height="34.3" stroke-width="3.4"/>
<rect x="369.1" y="1658.1" width="30.6" height="34.3" stroke-width="3.4"/>
<rect x="369.1" y="1706.6" width="30.6" height="34.3" stroke-width="3.4"/>
<rect x="428.6" y="1512.5" width="30.6" height="34.3" stroke-width="3.4"/>
<rect x="428.6" y="1561.3" width="30.6" height="34.3" stroke-width="3.4"/>
<rect x="428.6" y="1609.7" width="30.6" height="34.3" stroke-width="3.4"/>
<rect x="428.6" y="1658.1" width="30.6" height="34.3" stroke-width="3.4"/>
<rect x="428.6" y="1706.6" width="30.6" height="34.3" stroke-width="3.4"/>
<rect x="488.7" y="1514.0" width="30.6" height="34.3" stroke-width="3.4"/>
<rect x="488.7" y="1562.8" width="30.6" height="34.3" stroke-width="3.4"/>
<rect x="488.7" y="1611.2" width="30.6" height="34.3" stroke-width="3.4"/>
<rect x="488.7" y="1659.6" width="30.6" height="34.3" stroke-width="3.4"/>
<rect x="488.7" y="1708.1" width="30.6" height="34.3" stroke-width="3.4"/>
<rect x="549.0" y="1514.0" width="30.6" height="34.3" stroke-width="3.4"/>
<rect x="549.0" y="1562.8" width="30.6" height="34.3" stroke-width="3.4"/>
<rect x="549.0" y="1611.2" width="30.6" height="34.3" stroke-width="3.4"/>
<rect x="549.0" y="1659.6" width="30.6" height="34.3" stroke-width="3.4"/>
<rect x="549.0" y="1708.1" width="30.6" height="34.3" stroke-width="3.4"/>
</g>
<text x="352.0" y="1858.0" font-size="39.0" font-weight="bold" textLength="246.5" lengthAdjust="spacingAndGlyphs" stroke="#000" stroke-width="0.6" stroke-linejoin="round">СТАРЫЙ ДОМ</text>
<g id="arrow" fill="none" stroke="#000" stroke-linecap="round" stroke-linejoin="round">
<path d="M452.2 2029.3 C461 2040 466 2080 470 2105 C477 2150 483 2190 481.5 2210 C481 2232 479 2248 477.3 2258" stroke-width="7.2"/>
<path d="M453.8 2236.4 L477 2262 L481 2263 L508.8 2230.1" stroke-width="8"/>
<path d="M480 2258 L504 2236" stroke-width="8"/>
<path d="M799.5 2108.5 Q845 2112 891.5 2112" stroke-width="13.5"/>
<path d="M794.5 2177.5 Q840 2182 886.5 2183.5" stroke-width="13.5"/>
</g>
<g id="newhouse" fill="none" stroke="#000" stroke-width="11.8" stroke-linecap="round" stroke-linejoin="round">
<path d="M393.4 2735 V2392.9 H564.8 V2735"/>
<rect x="432.5" y="2431.7" width="27.7" height="41" rx="2"/>
<rect x="432.5" y="2511.1" width="27.7" height="41" rx="2"/>
<rect x="432.5" y="2589.8" width="27.7" height="41" rx="2"/>
<rect x="497.9" y="2431.7" width="27.7" height="41" rx="2"/>
<rect x="497.9" y="2511.1" width="27.7" height="41" rx="2"/>
<rect x="497.9" y="2589.8" width="27.7" height="41" rx="2"/>
<path d="M288.4 2604.6 V2471.6 H367.9"/>
<rect x="328" y="2511.1" width="26.9" height="41" rx="2"/>
<path d="M328 2604.6 V2590.5 H354.9 V2630.8"/>
<path d="M314.7 2629.3 C330 2629.3 342 2690 342 2712 C342 2727 331 2735 314.7 2735 C298 2735 287.3 2727 287.3 2712 C287.3 2690 299 2629.3 314.7 2629.3 Z"/>
<path d="M314.7 2735 V2775"/>
<path d="M420 2668.5 H539.3"/>
<path d="M446.2 2668.5 V2735"/>
<path d="M511.6 2668.5 V2735"/>
<circle cx="479.1" cy="2708.4" r="6.3" fill="#000" stroke="none"/>
<path d="M380.1 2775 V2761.3 H564.8"/>
<path d="M590 2471.6 H670.5 V2752 Q670.5 2775 648 2775 H604 Q590 2775 590 2762 Q590 2749 604 2749 Q606 2738 617 2740 Q624 2722 642 2730 Q654 2736 655 2749 Q668 2748 670 2757"/>
<rect x="603.2" y="2511.1" width="28.1" height="41" rx="2"/>
<rect x="603.2" y="2589.8" width="28.1" height="41" rx="2"/>
<rect x="603.2" y="2668.5" width="28.1" height="41" rx="2"/>
</g>
<text x="360.0" y="2897.6" font-size="38.0" font-weight="bold" textLength="230.0" lengthAdjust="spacingAndGlyphs" stroke="#000" stroke-width="0.6" stroke-linejoin="round">НОВЫЙ ДОМ</text>
<g id="sheet" fill="none" stroke="#000" stroke-linecap="round" stroke-linejoin="round">
<path d="M1025.8 1657.5 C1120 1654 1210 1650 1290 1637 C1400 1618 1490 1590 1556.4 1541" stroke-width="4.6"/>
<path d="M1543 1512.4 C1552 1518 1556 1530 1558 1546" stroke-width="4.6"/>
<path d="M1549 1537 L1572 1525.5" stroke-width="4.6"/>
<path d="M1556.4 1541 C1580 1600 1600 1680 1620 1775 C1650 1920 1665 2020 1675 2100 C1690 2215 1698 2300 1697.8 2380 C1697 2440 1692 2480 1687.5 2504 C1682 2545 1678 2575 1673 2599 C1662 2625 1654 2645 1648.3 2668.8" stroke-width="4.6"/>
<path d="M1025.8 1657.5 C1060 1700 1085 1750 1094.5 1781.5 C1120 1850 1135 1900 1144.1 1938 C1152 1990 1158 2050 1160 2098 C1158 2200 1150 2280 1151.2 2338.8 C1152 2420 1157 2490 1161.5 2545 C1168 2590 1175 2625 1182.1 2650.2" stroke-width="5"/>
<path d="M1006.7 1649.9 C1040 1690 1062 1745 1075.4 1785.4 C1098 1850 1112 1900 1121.2 1938 C1130 1990 1134 2040 1136 2098 C1134 2200 1130 2300 1130.6 2380 C1133 2440 1138 2490 1145 2524.4 C1150 2550 1155 2570 1159.5 2586.3" stroke-width="2.8"/>
<path d="M1171.8 2654.4 C1230 2648 1290 2646 1351.3 2646.1 C1420 2647 1470 2648 1516.3 2644.1 C1550 2640 1575 2634 1598.8 2627.6 C1635 2615 1665 2600 1687.5 2586.3" stroke-width="4.6"/>
<path d="M1171 2652 L1203 2665" stroke-width="4.2"/>
<path d="M1182 2636 L1191 2665" stroke-width="4.2"/>
<circle cx="1029" cy="1659" r="4" fill="#000" stroke-width="3"/>
<circle cx="1673" cy="2608" r="3" stroke-width="2.5"/>
<path d="M1102.1 1710.9 L1127 1739.6 L1142.2 1707.1" stroke-width="7.5"/>
<path d="M1161.3 1911.3 L1178.5 1919 L1205.2 1884.6" stroke-width="7.5"/>
<path d="M1198.6 2091.3 L1217.2 2111.9 L1250.2 2076.8" stroke-width="7.5"/>
<path d="M1202.8 2192.3 L1223.4 2208.8 L1250.2 2159.3" stroke-width="7.5"/>
<path d="M1202.8 2470.8 L1223.4 2499.7 L1252.3 2462.5" stroke-width="7.5"/>
</g>
<g id="sheettext" font-weight="bold">
<text transform="translate(1168.9 1724.3) rotate(-8.28)" font-size="41" textLength="180.1" lengthAdjust="spacingAndGlyphs" stroke="#000" stroke-width="0.8">ДЕТСКАЯ</text>
<text transform="translate(1357.1 1696.8) rotate(-7.93)" font-size="34.5" textLength="91.3" lengthAdjust="spacingAndGlyphs" stroke="#000" stroke-width="0.8">ЗОНА</text>
<text transform="translate(1216.7 1819.7) rotate(-8.33)" font-size="37" textLength="237.2" lengthAdjust="spacingAndGlyphs" stroke="#000" stroke-width="0.8">МОЛОДЕЖНАЯ</text>
<text transform="translate(1461.7 1782.3) rotate(-11.65)" font-size="32" textLength="88.9" lengthAdjust="spacingAndGlyphs" stroke="#000" stroke-width="0.8">ЗОНА</text>
<text transform="translate(1247.2 1917.0) rotate(-6.39)" font-size="36.5" textLength="240.1" lengthAdjust="spacingAndGlyphs" stroke="#000" stroke-width="0.8">БИБЛИОТЕКА</text>
<text transform="translate(1268.2 2014.4) rotate(-6.68)" font-size="37" textLength="213.3" lengthAdjust="spacingAndGlyphs" stroke="#000" stroke-width="0.8">КОВОРКИНГ</text>
<text transform="translate(1276.2 2113.9) rotate(-8.10)" font-size="36.5" textLength="234.2" lengthAdjust="spacingAndGlyphs" stroke="#000" stroke-width="0.8">СПОРТИВНАЯ</text>
<text transform="translate(1283.2 2210.1) rotate(-8.69)" font-size="36.5" textLength="226.6" lengthAdjust="spacingAndGlyphs" stroke="#000" stroke-width="0.8">КУЛЬТУРНАЯ</text>
<text transform="translate(1286.1 2303.7) rotate(-4.80)" font-size="37.5" textLength="123.4" lengthAdjust="spacingAndGlyphs" stroke="#000" stroke-width="0.8">ЦЕНТР</text>
<text transform="translate(1421.4 2290.5) rotate(-18.21)" font-size="34" textLength="165.0" lengthAdjust="spacingAndGlyphs" stroke="#000" stroke-width="0.8">ЗАНЯТОСТИ</text>
<text transform="translate(1287.3 2404.8) rotate(-10.84)" font-size="36.5" textLength="245.7" lengthAdjust="spacingAndGlyphs" stroke="#000" stroke-width="0.8">ПЕНСИОННЫЙ</text>
<text transform="translate(1534.9 2356.1) rotate(-26.42)" font-size="33" textLength="71.4" lengthAdjust="spacingAndGlyphs" stroke="#000" stroke-width="0.8">ФОНД</text>
<text transform="translate(1289.4 2501.7) rotate(-4.75)" font-size="38.5" textLength="134.5" lengthAdjust="spacingAndGlyphs" stroke="#000" stroke-width="0.8">МЕСТО</text>
<text transform="translate(1435.9 2489.8) rotate(-13.05)" font-size="34" textLength="98.7" lengthAdjust="spacingAndGlyphs" stroke="#000" stroke-width="0.8">ВСТРЕЧ</text>
<text transform="translate(1298.5 2600.7) rotate(-2.22)" font-size="40.5" textLength="106.5" lengthAdjust="spacingAndGlyphs" stroke="#000" stroke-width="0.8">КЛУБ</text>
</g>
<text x="1241.5" y="2899.0" font-size="38.0" font-weight="bold" textLength="420.5" lengthAdjust="spacingAndGlyphs" stroke="#000" stroke-width="0.6" stroke-linejoin="round">АНКЕТА ДЛЯ ЖИТЕЛЕЙ</text>
<g id="legend">
<circle cx="2584" cy="2590" r="60" fill="#ff3030" fill-opacity=".28"/>
<circle cx="2584" cy="2590" r="43" fill="#ff3030" fill-opacity=".28"/>
<circle cx="2584" cy="2590" r="27" fill="#ff3030" fill-opacity=".55"/>
<text x="2680.5" y="2604.8" font-size="45.0" textLength="191.0" lengthAdjust="spacingAndGlyphs" stroke="#000" stroke-width="0.6" stroke-linejoin="round">ФУНКЦИИ</text>
<text x="2654.0" y="2740.0" font-size="45.0" textLength="576.0" lengthAdjust="spacingAndGlyphs" stroke="#000" stroke-width="0.6" stroke-linejoin="round">- МУЗЕЙ СОВЕТСКОЙ ИГРУШКИ</text>
<text x="2654.0" y="2818.0" font-size="45.0" textLength="388.0" lengthAdjust="spacingAndGlyphs" stroke="#000" stroke-width="0.6" stroke-linejoin="round">- КРУЖОК РАСТЕНИЙ</text>
<text x="2654.0" y="2895.0" font-size="45.0" textLength="612.0" lengthAdjust="spacingAndGlyphs" stroke="#000" stroke-width="0.6" stroke-linejoin="round">- ЛЮБИТЕЛИ СОБИРАТЬ УРОЖАЙ</text>
<text x="2654.0" y="2971.5" font-size="45.0" textLength="391.0" lengthAdjust="spacingAndGlyphs" stroke="#000" stroke-width="0.6" stroke-linejoin="round">- ДОСУГОВЫЙ ЦЕНТР</text>
<text x="2654.0" y="3049.0" font-size="45.0" textLength="256.0" lengthAdjust="spacingAndGlyphs" stroke="#000" stroke-width="0.6" stroke-linejoin="round">- КОВОРКИНГ</text>
<text x="2654.0" y="3126.0" font-size="45.0" textLength="620.0" lengthAdjust="spacingAndGlyphs" stroke="#000" stroke-width="0.6" stroke-linejoin="round">- ВЫСТАВОЧНОЕ ПРОСТРАНСТВО</text>
<text x="2654.0" y="3203.0" font-size="45.0" textLength="569.0" lengthAdjust="spacingAndGlyphs" stroke="#000" stroke-width="0.6" stroke-linejoin="round">- БИБЛИОТЕКА С КИНОЗАЛОМ</text>
<text x="2654.0" y="3281.0" font-size="45.0" textLength="450.0" lengthAdjust="spacingAndGlyphs" stroke="#000" stroke-width="0.6" stroke-linejoin="round">- СПОРТИВНЫЕ СЕКЦИИ</text>
</g>
<text x="4758.0" y="3358.0" font-size="50.5" textLength="53.0" lengthAdjust="spacingAndGlyphs" stroke="#fff" stroke-width="0.8">14</text>
<g id="logos">
<g id="ai-logo" font-size="136" fill="#111" stroke="#fff" stroke-width="5.4">
<text x="70.5" y="3438.8" textLength="82" lengthAdjust="spacingAndGlyphs">A</text>
<text x="148.1" y="3438.8">I</text>
</g>
<path d="M96 3390 L127 3390 L135 3418 L88 3418Z" fill="#fff"/>
<path d="M108.5 3338 H114.5 V3362 H108.5Z" fill="#fff"/>
<text x="73" y="3456" font-size="8.5" textLength="97" lengthAdjust="spacing" fill="#8a8a8a">architects</text>
<g fill="none" stroke="#000" stroke-width="3.3" stroke-linecap="butt" stroke-dasharray="8 2.5 5 2 11 3">
<ellipse cx="253" cy="3390" rx="29" ry="41" transform="rotate(-18 253 3390)" stroke-dashoffset="0"/>
<ellipse cx="253" cy="3390" rx="24.5" ry="35.5" transform="rotate(-18 253 3390)" stroke-dashoffset="3"/>
<ellipse cx="253" cy="3390" rx="20" ry="30" transform="rotate(-18 253 3390)" stroke-dashoffset="6"/>
<ellipse cx="253" cy="3390" rx="15.5" ry="24.5" transform="rotate(-18 253 3390)" stroke-dashoffset="9"/>
<ellipse cx="253" cy="3390" rx="11" ry="19" transform="rotate(-18 253 3390)" stroke-dashoffset="12"/>
<ellipse cx="253" cy="3390" rx="6.5" ry="13" transform="rotate(-18 253 3390)" stroke-dashoffset="15"/>
<ellipse cx="253" cy="3390" rx="2.5" ry="7" transform="rotate(-18 253 3390)" stroke-dashoffset="18"/>
</g>
<text x="222.0" y="3446.5" font-size="9.5" font-weight="bold" textLength="61.5" lengthAdjust="spacingAndGlyphs" fill="#555">SHEREDEGA</text>
<text x="222.0" y="3456.5" font-size="9.5" font-weight="bold" textLength="61.5" lengthAdjust="spacingAndGlyphs" fill="#555">CONSULTING</text>
</g>
</svg></body></html>
